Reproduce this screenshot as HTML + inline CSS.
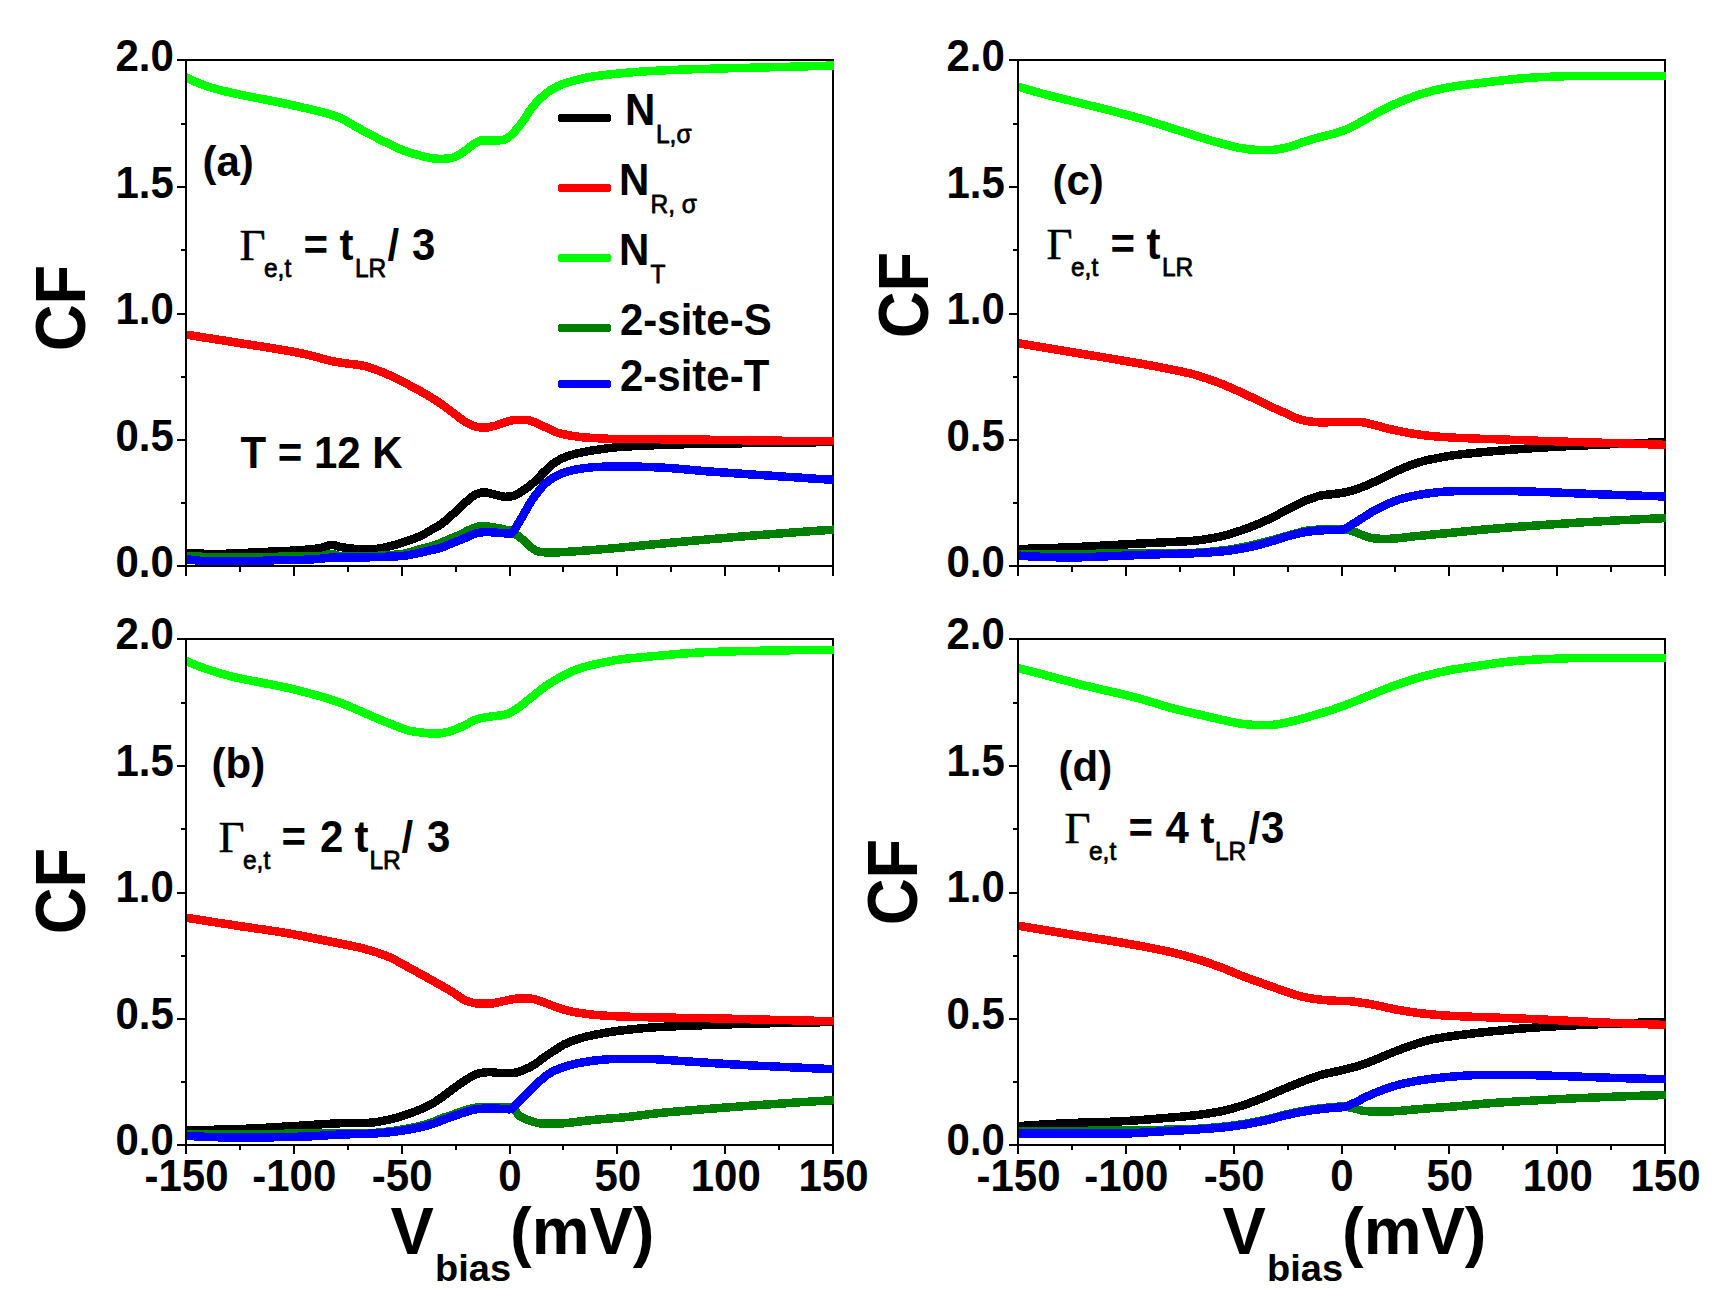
<!DOCTYPE html>
<html lang="en"><head><meta charset="utf-8"><title>CF vs Vbias</title>
<style>
html,body{margin:0;padding:0;background:#fff;}
body{width:1732px;height:1303px;overflow:hidden;}
svg{display:block;}
text{font-family:"Liberation Sans",sans-serif;font-weight:bold;fill:#000;}
.tk{font-size:42px;}
.an{font-size:42px;}
.sb{font-size:24.5px;font-weight:normal;stroke:#000;stroke-width:0.75px;stroke-linejoin:round;}
.gm{font-family:"Liberation Serif",serif;font-weight:normal;font-size:45px;stroke:#000;stroke-width:0.5px;}
.ax{font-size:65px;}
.axs{font-size:38px;}
.fr{stroke:#000;stroke-width:2;fill:none;shape-rendering:crispEdges;}
.cv{fill:none;stroke-width:8.5;stroke-linejoin:round;stroke-linecap:butt;shape-rendering:crispEdges;}
</style></head><body>
<svg width="1732" height="1303" viewBox="0 0 1732 1303">
<rect width="1732" height="1303" fill="#fff"/>
<path class="fr" d="M177 60H834M177 566H834M186 59V576M833 59V576M181 123.8H186M177 187.0H186M181 250.2H186M177 313.5H186M181 376.8H186M177 440.0H186M181 503.2H186M239.9 566V572M293.8 566V576M347.8 566V572M401.7 566V576M455.6 566V572M509.5 566V576M563.4 566V572M617.3 566V576M671.2 566V572M725.2 566V576M779.1 566V572"/>
<clipPath id="cpa"><rect x="187" y="61" width="647" height="504"/></clipPath>
<g clip-path="url(#cpa)">
<path class="cv" stroke="#000" d="M185.0 552.9 L187.0 553.0 L189.0 553.1 L191.0 553.3 L193.0 553.4 L195.0 553.4 L197.0 553.5 L199.0 553.6 L201.0 553.7 L203.0 553.7 L205.0 553.8 L207.0 553.8 L209.0 553.8 L211.0 553.9 L213.0 553.9 L215.0 553.9 L217.0 553.9 L219.0 553.9 L221.0 553.9 L223.0 553.8 L225.0 553.8 L227.0 553.7 L229.0 553.6 L231.0 553.5 L233.0 553.5 L235.0 553.4 L237.0 553.3 L239.0 553.2 L241.0 553.1 L243.0 553.0 L245.0 552.9 L247.0 552.8 L249.0 552.7 L251.0 552.6 L253.0 552.5 L255.0 552.4 L257.0 552.4 L259.0 552.3 L261.0 552.2 L263.0 552.1 L265.0 552.0 L267.0 551.8 L269.0 551.7 L271.0 551.6 L273.0 551.6 L275.0 551.5 L277.0 551.4 L279.0 551.3 L281.0 551.2 L283.0 551.1 L285.0 551.0 L287.0 550.9 L289.0 550.8 L291.0 550.7 L293.0 550.6 L295.0 550.5 L297.0 550.4 L299.0 550.3 L301.0 550.1 L303.0 550.0 L305.0 549.8 L307.0 549.6 L309.0 549.5 L311.0 549.2 L313.0 549.0 L315.0 548.8 L317.0 548.5 L319.0 548.2 L321.0 547.8 L323.0 547.2 L325.0 546.5 L327.0 545.9 L329.0 545.3 L331.0 545.0 L333.0 544.9 L335.0 545.3 L337.0 546.0 L339.0 546.7 L341.0 547.1 L343.0 547.4 L345.0 547.7 L347.0 548.0 L349.0 548.2 L351.0 548.5 L353.0 548.7 L355.0 548.9 L357.0 549.1 L359.0 549.3 L361.0 549.4 L363.0 549.5 L365.0 549.5 L367.0 549.5 L369.0 549.4 L371.0 549.3 L373.0 549.2 L375.0 549.0 L377.0 548.8 L379.0 548.5 L381.0 548.1 L383.0 547.8 L385.0 547.4 L387.0 546.9 L389.0 546.5 L391.0 546.0 L393.0 545.4 L395.0 544.9 L397.0 544.3 L399.0 543.7 L401.0 543.1 L403.0 542.4 L405.0 541.7 L407.0 541.0 L409.0 540.3 L411.0 539.6 L413.0 538.9 L415.0 538.2 L417.0 537.4 L419.0 536.7 L421.0 535.9 L423.0 534.9 L425.0 533.7 L427.0 532.4 L429.0 531.2 L431.0 530.0 L433.0 529.0 L435.0 527.9 L437.0 526.8 L439.0 525.6 L441.0 524.2 L443.0 522.7 L445.0 521.1 L447.0 519.4 L449.0 517.6 L451.0 515.8 L453.0 514.0 L455.0 512.2 L457.0 510.3 L459.0 508.3 L461.0 506.4 L463.0 504.5 L465.0 502.7 L467.0 501.1 L469.0 499.3 L471.0 497.6 L473.0 496.1 L475.0 494.9 L477.0 494.0 L479.0 493.3 L481.0 492.7 L483.0 492.4 L485.0 492.3 L487.0 492.6 L489.0 493.0 L491.0 493.6 L493.0 494.2 L495.0 494.6 L497.0 495.1 L499.0 495.7 L501.0 496.2 L503.0 496.6 L505.0 496.8 L507.0 496.7 L509.0 496.5 L511.0 496.3 L513.0 495.9 L515.0 495.3 L517.0 494.4 L519.0 493.2 L521.0 491.9 L523.0 490.6 L525.0 489.3 L527.0 487.9 L529.0 486.3 L531.0 484.7 L533.0 483.0 L535.0 481.2 L537.0 479.2 L539.0 477.1 L541.0 475.0 L543.0 473.0 L545.0 471.0 L547.0 469.2 L549.0 467.3 L551.0 465.5 L553.0 463.9 L555.0 462.5 L557.0 461.2 L559.0 460.0 L561.0 459.0 L563.0 458.0 L565.0 457.2 L567.0 456.4 L569.0 455.7 L571.0 455.1 L573.0 454.5 L575.0 454.0 L577.0 453.5 L579.0 453.0 L581.0 452.6 L583.0 452.2 L585.0 451.8 L587.0 451.4 L589.0 451.1 L591.0 450.7 L593.0 450.4 L595.0 450.1 L597.0 449.8 L599.0 449.5 L601.0 449.2 L603.0 448.9 L605.0 448.6 L607.0 448.4 L609.0 448.1 L611.0 447.9 L613.0 447.6 L615.0 447.4 L617.0 447.2 L619.0 447.1 L621.0 446.9 L623.0 446.8 L625.0 446.7 L627.0 446.6 L629.0 446.4 L631.0 446.3 L633.0 446.2 L635.0 446.1 L637.0 446.0 L639.0 445.9 L641.0 445.8 L643.0 445.7 L645.0 445.6 L647.0 445.5 L649.0 445.4 L651.0 445.3 L653.0 445.3 L655.0 445.2 L657.0 445.1 L659.0 445.0 L661.0 445.0 L663.0 444.9 L665.0 444.8 L667.0 444.8 L669.0 444.7 L671.0 444.6 L673.0 444.6 L675.0 444.5 L677.0 444.5 L679.0 444.4 L681.0 444.3 L683.0 444.3 L685.0 444.2 L687.0 444.2 L689.0 444.2 L691.0 444.1 L693.0 444.1 L695.0 444.0 L697.0 444.0 L699.0 443.9 L701.0 443.9 L703.0 443.9 L705.0 443.8 L707.0 443.8 L709.0 443.8 L711.0 443.7 L713.0 443.7 L715.0 443.7 L717.0 443.6 L719.0 443.6 L721.0 443.6 L723.0 443.5 L725.0 443.5 L727.0 443.5 L729.0 443.4 L731.0 443.4 L733.0 443.4 L735.0 443.4 L737.0 443.3 L739.0 443.3 L741.0 443.3 L743.0 443.2 L745.0 443.2 L747.0 443.2 L749.0 443.2 L751.0 443.1 L753.0 443.1 L755.0 443.1 L757.0 443.0 L759.0 443.0 L761.0 443.0 L763.0 443.0 L765.0 442.9 L767.0 442.9 L769.0 442.9 L771.0 442.8 L773.0 442.8 L775.0 442.8 L777.0 442.8 L779.0 442.7 L781.0 442.7 L783.0 442.7 L785.0 442.6 L787.0 442.6 L789.0 442.6 L791.0 442.6 L793.0 442.5 L795.0 442.5 L797.0 442.5 L799.0 442.5 L801.0 442.4 L803.0 442.4 L805.0 442.4 L807.0 442.4 L809.0 442.3 L811.0 442.3 L813.0 442.3 L815.0 442.3 L817.0 442.2 L819.0 442.2 L821.0 442.2 L823.0 442.2 L825.0 442.1 L827.0 442.1 L829.0 442.1 L831.0 442.1 L833.0 442.0 L835.0 442.0"/>
<path class="cv" stroke="#f00" d="M185.0 334.5 L187.0 334.8 L189.0 335.1 L191.0 335.4 L193.0 335.7 L195.0 336.0 L197.0 336.3 L199.0 336.7 L201.0 337.0 L203.0 337.3 L205.0 337.6 L207.0 337.9 L209.0 338.2 L211.0 338.5 L213.0 338.8 L215.0 339.2 L217.0 339.5 L219.0 339.8 L221.0 340.1 L223.0 340.4 L225.0 340.7 L227.0 341.1 L229.0 341.4 L231.0 341.7 L233.0 342.0 L235.0 342.3 L237.0 342.7 L239.0 343.0 L241.0 343.3 L243.0 343.6 L245.0 343.9 L247.0 344.2 L249.0 344.5 L251.0 344.8 L253.0 345.2 L255.0 345.5 L257.0 345.8 L259.0 346.1 L261.0 346.4 L263.0 346.7 L265.0 347.0 L267.0 347.3 L269.0 347.6 L271.0 347.9 L273.0 348.3 L275.0 348.6 L277.0 348.9 L279.0 349.3 L281.0 349.6 L283.0 349.9 L285.0 350.3 L287.0 350.6 L289.0 351.0 L291.0 351.4 L293.0 351.7 L295.0 352.1 L297.0 352.5 L299.0 352.9 L301.0 353.3 L303.0 353.7 L305.0 354.2 L307.0 354.7 L309.0 355.1 L311.0 355.6 L313.0 356.1 L315.0 356.6 L317.0 357.2 L319.0 357.7 L321.0 358.3 L323.0 358.9 L325.0 359.5 L327.0 360.0 L329.0 360.5 L331.0 361.0 L333.0 361.3 L335.0 361.7 L337.0 362.0 L339.0 362.4 L341.0 362.7 L343.0 363.0 L345.0 363.2 L347.0 363.5 L349.0 363.8 L351.0 364.0 L353.0 364.2 L355.0 364.5 L357.0 364.7 L359.0 365.0 L361.0 365.3 L363.0 365.6 L365.0 366.1 L367.0 366.6 L369.0 367.2 L371.0 367.9 L373.0 368.6 L375.0 369.4 L377.0 370.1 L379.0 370.9 L381.0 371.6 L383.0 372.4 L385.0 373.2 L387.0 374.1 L389.0 375.0 L391.0 375.9 L393.0 376.8 L395.0 377.7 L397.0 378.7 L399.0 379.7 L401.0 380.8 L403.0 381.8 L405.0 382.9 L407.0 384.0 L409.0 385.0 L411.0 386.1 L413.0 387.2 L415.0 388.2 L417.0 389.3 L419.0 390.4 L421.0 391.5 L423.0 392.6 L425.0 393.8 L427.0 394.9 L429.0 396.1 L431.0 397.3 L433.0 398.6 L435.0 399.8 L437.0 401.1 L439.0 402.4 L441.0 403.8 L443.0 405.2 L445.0 406.7 L447.0 408.2 L449.0 409.7 L451.0 411.2 L453.0 412.7 L455.0 414.2 L457.0 415.8 L459.0 417.3 L461.0 418.9 L463.0 420.3 L465.0 421.6 L467.0 422.7 L469.0 423.8 L471.0 424.8 L473.0 425.7 L475.0 426.4 L477.0 426.9 L479.0 427.2 L481.0 427.5 L483.0 427.7 L485.0 427.7 L487.0 427.5 L489.0 427.2 L491.0 426.7 L493.0 426.2 L495.0 425.8 L497.0 425.2 L499.0 424.4 L501.0 423.7 L503.0 422.9 L505.0 422.3 L507.0 421.7 L509.0 421.1 L511.0 420.5 L513.0 420.1 L515.0 419.8 L517.0 419.8 L519.0 419.8 L521.0 419.8 L523.0 419.8 L525.0 419.8 L527.0 420.0 L529.0 420.4 L531.0 421.0 L533.0 421.6 L535.0 422.3 L537.0 423.1 L539.0 424.1 L541.0 425.1 L543.0 426.1 L545.0 427.0 L547.0 428.0 L549.0 429.0 L551.0 430.0 L553.0 430.9 L555.0 431.8 L557.0 432.5 L559.0 433.1 L561.0 433.6 L563.0 434.1 L565.0 434.5 L567.0 434.9 L569.0 435.3 L571.0 435.6 L573.0 435.9 L575.0 436.2 L577.0 436.5 L579.0 436.8 L581.0 437.0 L583.0 437.3 L585.0 437.4 L587.0 437.6 L589.0 437.7 L591.0 437.9 L593.0 438.0 L595.0 438.1 L597.0 438.2 L599.0 438.3 L601.0 438.4 L603.0 438.5 L605.0 438.6 L607.0 438.7 L609.0 438.8 L611.0 438.9 L613.0 439.0 L615.0 439.0 L617.0 439.1 L619.0 439.1 L621.0 439.1 L623.0 439.1 L625.0 439.1 L627.0 439.1 L629.0 439.2 L631.0 439.2 L633.0 439.2 L635.0 439.2 L637.0 439.2 L639.0 439.2 L641.0 439.2 L643.0 439.2 L645.0 439.2 L647.0 439.2 L649.0 439.2 L651.0 439.2 L653.0 439.2 L655.0 439.2 L657.0 439.2 L659.0 439.2 L661.0 439.3 L663.0 439.3 L665.0 439.3 L667.0 439.3 L669.0 439.3 L671.0 439.3 L673.0 439.3 L675.0 439.4 L677.0 439.4 L679.0 439.4 L681.0 439.4 L683.0 439.4 L685.0 439.5 L687.0 439.5 L689.0 439.5 L691.0 439.5 L693.0 439.5 L695.0 439.6 L697.0 439.6 L699.0 439.6 L701.0 439.6 L703.0 439.7 L705.0 439.7 L707.0 439.7 L709.0 439.7 L711.0 439.8 L713.0 439.8 L715.0 439.8 L717.0 439.8 L719.0 439.9 L721.0 439.9 L723.0 439.9 L725.0 440.0 L727.0 440.0 L729.0 440.0 L731.0 440.1 L733.0 440.1 L735.0 440.1 L737.0 440.2 L739.0 440.2 L741.0 440.2 L743.0 440.3 L745.0 440.3 L747.0 440.3 L749.0 440.3 L751.0 440.4 L753.0 440.4 L755.0 440.4 L757.0 440.5 L759.0 440.5 L761.0 440.5 L763.0 440.5 L765.0 440.6 L767.0 440.6 L769.0 440.6 L771.0 440.6 L773.0 440.7 L775.0 440.7 L777.0 440.7 L779.0 440.7 L781.0 440.7 L783.0 440.8 L785.0 440.8 L787.0 440.8 L789.0 440.8 L791.0 440.9 L793.0 440.9 L795.0 440.9 L797.0 440.9 L799.0 440.9 L801.0 441.0 L803.0 441.0 L805.0 441.0 L807.0 441.0 L809.0 441.0 L811.0 441.1 L813.0 441.1 L815.0 441.1 L817.0 441.1 L819.0 441.1 L821.0 441.1 L823.0 441.2 L825.0 441.2 L827.0 441.2 L829.0 441.2 L831.0 441.2 L833.0 441.2 L835.0 441.2"/>
<path class="cv" stroke="#0f0" d="M185.0 77.0 L187.0 78.0 L189.0 78.9 L191.0 79.8 L193.0 80.7 L195.0 81.6 L197.0 82.4 L199.0 83.2 L201.0 84.0 L203.0 84.8 L205.0 85.5 L207.0 86.2 L209.0 86.9 L211.0 87.5 L213.0 88.1 L215.0 88.7 L217.0 89.2 L219.0 89.8 L221.0 90.3 L223.0 90.8 L225.0 91.3 L227.0 91.7 L229.0 92.2 L231.0 92.6 L233.0 93.1 L235.0 93.5 L237.0 94.0 L239.0 94.4 L241.0 94.8 L243.0 95.2 L245.0 95.6 L247.0 96.0 L249.0 96.4 L251.0 96.8 L253.0 97.2 L255.0 97.6 L257.0 98.0 L259.0 98.4 L261.0 98.8 L263.0 99.1 L265.0 99.5 L267.0 99.9 L269.0 100.3 L271.0 100.7 L273.0 101.1 L275.0 101.5 L277.0 101.9 L279.0 102.3 L281.0 102.7 L283.0 103.1 L285.0 103.5 L287.0 104.0 L289.0 104.4 L291.0 104.8 L293.0 105.3 L295.0 105.7 L297.0 106.2 L299.0 106.6 L301.0 107.1 L303.0 107.6 L305.0 108.0 L307.0 108.5 L309.0 109.0 L311.0 109.5 L313.0 110.0 L315.0 110.5 L317.0 110.9 L319.0 111.4 L321.0 111.9 L323.0 112.4 L325.0 112.9 L327.0 113.5 L329.0 114.0 L331.0 114.6 L333.0 115.2 L335.0 115.9 L337.0 116.6 L339.0 117.4 L341.0 118.4 L343.0 119.3 L345.0 120.4 L347.0 121.5 L349.0 122.6 L351.0 123.8 L353.0 125.0 L355.0 126.1 L357.0 127.3 L359.0 128.4 L361.0 129.5 L363.0 130.6 L365.0 131.6 L367.0 132.7 L369.0 133.8 L371.0 134.9 L373.0 135.9 L375.0 137.0 L377.0 138.0 L379.0 139.1 L381.0 140.1 L383.0 141.1 L385.0 142.0 L387.0 143.0 L389.0 143.9 L391.0 144.9 L393.0 145.8 L395.0 146.7 L397.0 147.7 L399.0 148.6 L401.0 149.4 L403.0 150.3 L405.0 151.0 L407.0 151.8 L409.0 152.4 L411.0 153.0 L413.0 153.6 L415.0 154.1 L417.0 154.7 L419.0 155.2 L421.0 155.8 L423.0 156.3 L425.0 156.8 L427.0 157.2 L429.0 157.6 L431.0 158.0 L433.0 158.3 L435.0 158.5 L437.0 158.7 L439.0 158.8 L441.0 158.8 L443.0 158.8 L445.0 158.7 L447.0 158.6 L449.0 158.4 L451.0 158.1 L453.0 157.5 L455.0 156.7 L457.0 155.7 L459.0 154.8 L461.0 153.6 L463.0 152.2 L465.0 150.7 L467.0 149.2 L469.0 147.7 L471.0 146.1 L473.0 144.6 L475.0 143.1 L477.0 142.0 L479.0 141.1 L481.0 140.4 L483.0 140.4 L485.0 140.4 L487.0 140.5 L489.0 140.5 L491.0 140.6 L493.0 140.6 L495.0 140.6 L497.0 140.6 L499.0 140.4 L501.0 140.1 L503.0 139.8 L505.0 139.3 L507.0 138.4 L509.0 136.9 L511.0 135.1 L513.0 133.1 L515.0 131.1 L517.0 128.9 L519.0 126.4 L521.0 123.8 L523.0 121.1 L525.0 118.3 L527.0 115.1 L529.0 111.9 L531.0 109.0 L533.0 106.4 L535.0 104.0 L537.0 101.9 L539.0 99.8 L541.0 97.9 L543.0 96.1 L545.0 94.4 L547.0 92.8 L549.0 91.3 L551.0 89.9 L553.0 88.7 L555.0 87.6 L557.0 86.5 L559.0 85.6 L561.0 84.7 L563.0 84.0 L565.0 83.3 L567.0 82.7 L569.0 82.1 L571.0 81.5 L573.0 80.9 L575.0 80.3 L577.0 79.8 L579.0 79.3 L581.0 78.8 L583.0 78.4 L585.0 77.9 L587.0 77.5 L589.0 77.2 L591.0 76.8 L593.0 76.5 L595.0 76.2 L597.0 75.9 L599.0 75.6 L601.0 75.4 L603.0 75.2 L605.0 74.9 L607.0 74.7 L609.0 74.5 L611.0 74.3 L613.0 74.1 L615.0 73.9 L617.0 73.7 L619.0 73.5 L621.0 73.3 L623.0 73.1 L625.0 72.9 L627.0 72.7 L629.0 72.6 L631.0 72.4 L633.0 72.2 L635.0 72.1 L637.0 71.9 L639.0 71.8 L641.0 71.6 L643.0 71.5 L645.0 71.4 L647.0 71.2 L649.0 71.1 L651.0 71.0 L653.0 70.9 L655.0 70.8 L657.0 70.7 L659.0 70.5 L661.0 70.5 L663.0 70.4 L665.0 70.3 L667.0 70.2 L669.0 70.1 L671.0 70.0 L673.0 69.9 L675.0 69.9 L677.0 69.8 L679.0 69.7 L681.0 69.6 L683.0 69.6 L685.0 69.5 L687.0 69.4 L689.0 69.4 L691.0 69.3 L693.0 69.2 L695.0 69.2 L697.0 69.1 L699.0 69.1 L701.0 69.0 L703.0 69.0 L705.0 68.9 L707.0 68.8 L709.0 68.8 L711.0 68.7 L713.0 68.7 L715.0 68.6 L717.0 68.6 L719.0 68.5 L721.0 68.4 L723.0 68.4 L725.0 68.3 L727.0 68.3 L729.0 68.2 L731.0 68.2 L733.0 68.2 L735.0 68.1 L737.0 68.1 L739.0 68.0 L741.0 68.0 L743.0 67.9 L745.0 67.9 L747.0 67.8 L749.0 67.8 L751.0 67.7 L753.0 67.7 L755.0 67.6 L757.0 67.6 L759.0 67.5 L761.0 67.5 L763.0 67.4 L765.0 67.4 L767.0 67.3 L769.0 67.3 L771.0 67.2 L773.0 67.2 L775.0 67.1 L777.0 67.1 L779.0 67.0 L781.0 67.0 L783.0 66.9 L785.0 66.9 L787.0 66.8 L789.0 66.8 L791.0 66.7 L793.0 66.6 L795.0 66.6 L797.0 66.5 L799.0 66.5 L801.0 66.4 L803.0 66.4 L805.0 66.3 L807.0 66.3 L809.0 66.2 L811.0 66.2 L813.0 66.1 L815.0 66.1 L817.0 66.0 L819.0 66.0 L821.0 65.9 L823.0 65.9 L825.0 65.8 L827.0 65.7 L829.0 65.7 L831.0 65.6 L833.0 65.6 L835.0 65.5"/>
<path class="cv" stroke="#008000" d="M185.0 556.2 L187.0 556.3 L189.0 556.3 L191.0 556.4 L193.0 556.5 L195.0 556.5 L197.0 556.6 L199.0 556.6 L201.0 556.7 L203.0 556.8 L205.0 556.8 L207.0 556.9 L209.0 556.9 L211.0 557.0 L213.0 557.0 L215.0 557.1 L217.0 557.1 L219.0 557.1 L221.0 557.2 L223.0 557.2 L225.0 557.3 L227.0 557.3 L229.0 557.4 L231.0 557.4 L233.0 557.5 L235.0 557.5 L237.0 557.5 L239.0 557.6 L241.0 557.6 L243.0 557.6 L245.0 557.6 L247.0 557.6 L249.0 557.6 L251.0 557.5 L253.0 557.5 L255.0 557.4 L257.0 557.4 L259.0 557.3 L261.0 557.3 L263.0 557.2 L265.0 557.1 L267.0 557.0 L269.0 557.0 L271.0 556.9 L273.0 556.9 L275.0 556.8 L277.0 556.8 L279.0 556.7 L281.0 556.6 L283.0 556.6 L285.0 556.5 L287.0 556.4 L289.0 556.4 L291.0 556.3 L293.0 556.3 L295.0 556.2 L297.0 556.2 L299.0 556.2 L301.0 556.2 L303.0 556.2 L305.0 556.2 L307.0 556.2 L309.0 556.2 L311.0 556.2 L313.0 556.2 L315.0 556.2 L317.0 556.2 L319.0 556.2 L321.0 556.0 L323.0 555.6 L325.0 555.2 L327.0 554.7 L329.0 554.3 L331.0 554.0 L333.0 553.9 L335.0 554.5 L337.0 555.4 L339.0 556.1 L341.0 556.2 L343.0 556.2 L345.0 556.2 L347.0 556.2 L349.0 556.2 L351.0 556.2 L353.0 556.2 L355.0 556.1 L357.0 556.1 L359.0 556.1 L361.0 556.1 L363.0 556.1 L365.0 556.1 L367.0 556.0 L369.0 556.0 L371.0 556.0 L373.0 555.9 L375.0 555.9 L377.0 555.8 L379.0 555.7 L381.0 555.7 L383.0 555.6 L385.0 555.4 L387.0 555.3 L389.0 555.2 L391.0 555.0 L393.0 554.8 L395.0 554.7 L397.0 554.5 L399.0 554.3 L401.0 554.1 L403.0 553.8 L405.0 553.4 L407.0 552.9 L409.0 552.4 L411.0 551.8 L413.0 551.2 L415.0 550.6 L417.0 550.0 L419.0 549.5 L421.0 549.0 L423.0 548.5 L425.0 548.0 L427.0 547.5 L429.0 547.0 L431.0 546.4 L433.0 545.8 L435.0 545.1 L437.0 544.3 L439.0 543.6 L441.0 542.8 L443.0 541.9 L445.0 541.0 L447.0 540.1 L449.0 539.2 L451.0 538.4 L453.0 537.6 L455.0 536.7 L457.0 535.9 L459.0 535.1 L461.0 534.1 L463.0 533.1 L465.0 532.0 L467.0 531.0 L469.0 530.0 L471.0 529.1 L473.0 528.3 L475.0 527.5 L477.0 527.0 L479.0 526.5 L481.0 526.2 L483.0 526.0 L485.0 526.1 L487.0 526.4 L489.0 526.7 L491.0 527.0 L493.0 527.3 L495.0 527.6 L497.0 528.0 L499.0 528.3 L501.0 528.7 L503.0 529.1 L505.0 529.6 L507.0 529.9 L509.0 530.1 L511.0 530.4 L513.0 531.6 L515.0 533.3 L517.0 535.1 L519.0 536.7 L521.0 538.2 L523.0 539.7 L525.0 541.3 L527.0 543.2 L529.0 545.3 L531.0 547.2 L533.0 548.7 L535.0 550.0 L537.0 551.1 L539.0 551.6 L541.0 552.0 L543.0 552.2 L545.0 552.3 L547.0 552.3 L549.0 552.3 L551.0 552.3 L553.0 552.3 L555.0 552.3 L557.0 552.3 L559.0 552.3 L561.0 552.2 L563.0 552.1 L565.0 552.0 L567.0 551.8 L569.0 551.7 L571.0 551.6 L573.0 551.4 L575.0 551.3 L577.0 551.2 L579.0 551.0 L581.0 550.9 L583.0 550.7 L585.0 550.6 L587.0 550.4 L589.0 550.3 L591.0 550.1 L593.0 550.0 L595.0 549.8 L597.0 549.7 L599.0 549.5 L601.0 549.3 L603.0 549.2 L605.0 549.0 L607.0 548.8 L609.0 548.7 L611.0 548.5 L613.0 548.3 L615.0 548.1 L617.0 548.0 L619.0 547.8 L621.0 547.6 L623.0 547.4 L625.0 547.2 L627.0 547.0 L629.0 546.8 L631.0 546.6 L633.0 546.5 L635.0 546.2 L637.0 546.0 L639.0 545.8 L641.0 545.6 L643.0 545.4 L645.0 545.2 L647.0 545.0 L649.0 544.8 L651.0 544.6 L653.0 544.4 L655.0 544.2 L657.0 544.0 L659.0 543.8 L661.0 543.7 L663.0 543.5 L665.0 543.3 L667.0 543.1 L669.0 542.9 L671.0 542.7 L673.0 542.5 L675.0 542.4 L677.0 542.2 L679.0 542.0 L681.0 541.8 L683.0 541.6 L685.0 541.5 L687.0 541.3 L689.0 541.1 L691.0 540.9 L693.0 540.7 L695.0 540.6 L697.0 540.4 L699.0 540.2 L701.0 540.0 L703.0 539.9 L705.0 539.7 L707.0 539.5 L709.0 539.3 L711.0 539.2 L713.0 539.0 L715.0 538.8 L717.0 538.6 L719.0 538.5 L721.0 538.3 L723.0 538.1 L725.0 537.9 L727.0 537.8 L729.0 537.6 L731.0 537.4 L733.0 537.2 L735.0 537.1 L737.0 536.9 L739.0 536.7 L741.0 536.6 L743.0 536.4 L745.0 536.2 L747.0 536.1 L749.0 535.9 L751.0 535.7 L753.0 535.6 L755.0 535.4 L757.0 535.2 L759.0 535.1 L761.0 534.9 L763.0 534.8 L765.0 534.6 L767.0 534.5 L769.0 534.3 L771.0 534.1 L773.0 534.0 L775.0 533.8 L777.0 533.7 L779.0 533.5 L781.0 533.4 L783.0 533.2 L785.0 533.1 L787.0 532.9 L789.0 532.8 L791.0 532.6 L793.0 532.5 L795.0 532.3 L797.0 532.2 L799.0 532.0 L801.0 531.9 L803.0 531.8 L805.0 531.6 L807.0 531.5 L809.0 531.3 L811.0 531.2 L813.0 531.0 L815.0 530.9 L817.0 530.8 L819.0 530.6 L821.0 530.5 L823.0 530.4 L825.0 530.2 L827.0 530.1 L829.0 530.0 L831.0 529.8 L833.0 529.7 L835.0 529.6"/>
<path class="cv" stroke="#00f" d="M185.0 559.0 L187.0 559.3 L189.0 559.5 L191.0 559.8 L193.0 560.0 L195.0 560.2 L197.0 560.5 L199.0 560.7 L201.0 560.9 L203.0 561.0 L205.0 561.2 L207.0 561.4 L209.0 561.5 L211.0 561.6 L213.0 561.6 L215.0 561.7 L217.0 561.7 L219.0 561.7 L221.0 561.7 L223.0 561.7 L225.0 561.7 L227.0 561.7 L229.0 561.7 L231.0 561.7 L233.0 561.7 L235.0 561.7 L237.0 561.7 L239.0 561.7 L241.0 561.7 L243.0 561.7 L245.0 561.7 L247.0 561.7 L249.0 561.6 L251.0 561.5 L253.0 561.4 L255.0 561.3 L257.0 561.2 L259.0 561.0 L261.0 560.9 L263.0 560.8 L265.0 560.6 L267.0 560.5 L269.0 560.4 L271.0 560.3 L273.0 560.3 L275.0 560.2 L277.0 560.2 L279.0 560.2 L281.0 560.2 L283.0 560.1 L285.0 560.1 L287.0 560.1 L289.0 560.1 L291.0 560.1 L293.0 560.0 L295.0 560.0 L297.0 560.0 L299.0 559.9 L301.0 559.9 L303.0 559.8 L305.0 559.7 L307.0 559.6 L309.0 559.5 L311.0 559.4 L313.0 559.3 L315.0 559.1 L317.0 559.0 L319.0 558.9 L321.0 558.7 L323.0 558.4 L325.0 558.2 L327.0 558.0 L329.0 557.8 L331.0 557.6 L333.0 557.6 L335.0 557.6 L337.0 557.6 L339.0 557.6 L341.0 557.6 L343.0 557.6 L345.0 557.6 L347.0 557.6 L349.0 557.6 L351.0 557.6 L353.0 557.5 L355.0 557.5 L357.0 557.5 L359.0 557.5 L361.0 557.4 L363.0 557.4 L365.0 557.4 L367.0 557.3 L369.0 557.3 L371.0 557.2 L373.0 557.2 L375.0 557.1 L377.0 557.1 L379.0 557.0 L381.0 557.0 L383.0 556.9 L385.0 556.8 L387.0 556.7 L389.0 556.7 L391.0 556.6 L393.0 556.5 L395.0 556.4 L397.0 556.3 L399.0 556.2 L401.0 556.1 L403.0 556.0 L405.0 555.7 L407.0 555.4 L409.0 555.0 L411.0 554.6 L413.0 554.2 L415.0 553.8 L417.0 553.3 L419.0 552.9 L421.0 552.5 L423.0 552.1 L425.0 551.6 L427.0 551.1 L429.0 550.6 L431.0 550.2 L433.0 549.7 L435.0 549.3 L437.0 548.8 L439.0 548.3 L441.0 547.7 L443.0 547.0 L445.0 546.2 L447.0 545.3 L449.0 544.5 L451.0 543.7 L453.0 542.9 L455.0 542.1 L457.0 541.3 L459.0 540.5 L461.0 539.7 L463.0 538.8 L465.0 538.0 L467.0 537.1 L469.0 536.3 L471.0 535.4 L473.0 534.5 L475.0 533.7 L477.0 533.2 L479.0 532.8 L481.0 532.5 L483.0 532.2 L485.0 532.0 L487.0 532.0 L489.0 532.1 L491.0 532.2 L493.0 532.4 L495.0 532.5 L497.0 532.7 L499.0 532.8 L501.0 533.0 L503.0 533.2 L505.0 533.3 L507.0 533.5 L509.0 533.6 L511.0 533.6 L513.0 531.9 L515.0 528.9 L517.0 525.4 L519.0 522.2 L521.0 518.9 L523.0 515.4 L525.0 511.9 L527.0 508.3 L529.0 504.8 L531.0 501.6 L533.0 498.6 L535.0 495.9 L537.0 493.3 L539.0 490.8 L541.0 488.2 L543.0 485.8 L545.0 483.8 L547.0 482.1 L549.0 480.6 L551.0 479.2 L553.0 477.9 L555.0 476.7 L557.0 475.6 L559.0 474.7 L561.0 473.8 L563.0 473.0 L565.0 472.3 L567.0 471.6 L569.0 471.1 L571.0 470.6 L573.0 470.1 L575.0 469.7 L577.0 469.3 L579.0 469.0 L581.0 468.6 L583.0 468.4 L585.0 468.1 L587.0 467.9 L589.0 467.6 L591.0 467.4 L593.0 467.2 L595.0 467.1 L597.0 467.0 L599.0 466.9 L601.0 466.8 L603.0 466.7 L605.0 466.6 L607.0 466.6 L609.0 466.5 L611.0 466.4 L613.0 466.4 L615.0 466.3 L617.0 466.3 L619.0 466.3 L621.0 466.3 L623.0 466.3 L625.0 466.3 L627.0 466.4 L629.0 466.4 L631.0 466.4 L633.0 466.5 L635.0 466.5 L637.0 466.6 L639.0 466.7 L641.0 466.7 L643.0 466.8 L645.0 466.9 L647.0 466.9 L649.0 467.0 L651.0 467.1 L653.0 467.2 L655.0 467.3 L657.0 467.4 L659.0 467.5 L661.0 467.5 L663.0 467.6 L665.0 467.8 L667.0 467.9 L669.0 468.0 L671.0 468.1 L673.0 468.3 L675.0 468.4 L677.0 468.6 L679.0 468.8 L681.0 468.9 L683.0 469.1 L685.0 469.3 L687.0 469.5 L689.0 469.7 L691.0 469.9 L693.0 470.0 L695.0 470.2 L697.0 470.4 L699.0 470.6 L701.0 470.8 L703.0 470.9 L705.0 471.1 L707.0 471.3 L709.0 471.4 L711.0 471.6 L713.0 471.7 L715.0 471.9 L717.0 472.0 L719.0 472.2 L721.0 472.3 L723.0 472.4 L725.0 472.6 L727.0 472.7 L729.0 472.9 L731.0 473.0 L733.0 473.2 L735.0 473.3 L737.0 473.4 L739.0 473.6 L741.0 473.7 L743.0 473.8 L745.0 474.0 L747.0 474.1 L749.0 474.3 L751.0 474.4 L753.0 474.5 L755.0 474.7 L757.0 474.8 L759.0 474.9 L761.0 475.1 L763.0 475.2 L765.0 475.3 L767.0 475.5 L769.0 475.6 L771.0 475.7 L773.0 475.9 L775.0 476.0 L777.0 476.1 L779.0 476.3 L781.0 476.4 L783.0 476.5 L785.0 476.7 L787.0 476.8 L789.0 476.9 L791.0 477.1 L793.0 477.2 L795.0 477.3 L797.0 477.5 L799.0 477.6 L801.0 477.7 L803.0 477.9 L805.0 478.0 L807.0 478.1 L809.0 478.3 L811.0 478.4 L813.0 478.5 L815.0 478.7 L817.0 478.8 L819.0 478.9 L821.0 479.0 L823.0 479.2 L825.0 479.3 L827.0 479.4 L829.0 479.6 L831.0 479.7 L833.0 479.8 L835.0 479.9"/>
</g>
<text class="tk" transform="translate(173.9 71.0) scale(1 1.06)" text-anchor="end">2.0</text>
<text class="tk" transform="translate(173.9 197.5) scale(1 1.06)" text-anchor="end">1.5</text>
<text class="tk" transform="translate(173.9 324.0) scale(1 1.06)" text-anchor="end">1.0</text>
<text class="tk" transform="translate(173.9 450.5) scale(1 1.06)" text-anchor="end">0.5</text>
<text class="tk" transform="translate(173.9 577.0) scale(1 1.06)" text-anchor="end">0.0</text>
<text class="ax" transform="translate(85 308) rotate(-90) scale(1 1.085)" text-anchor="middle">CF</text>
<path class="fr" d="M177 639H834M177 1145H834M186 638V1154M833 638V1154M181 702.8H186M177 766.0H186M181 829.2H186M177 892.5H186M181 955.8H186M177 1019.0H186M181 1082.2H186M239.9 1145V1150M293.8 1145V1154M347.8 1145V1150M401.7 1145V1154M455.6 1145V1150M509.5 1145V1154M563.4 1145V1150M617.3 1145V1154M671.2 1145V1150M725.2 1145V1154M779.1 1145V1150"/>
<clipPath id="cpb"><rect x="187" y="640" width="647" height="504"/></clipPath>
<g clip-path="url(#cpb)">
<path class="cv" stroke="#000" d="M185.0 1130.2 L187.0 1130.2 L189.0 1130.2 L191.0 1130.2 L193.0 1130.1 L195.0 1130.1 L197.0 1130.1 L199.0 1130.0 L201.0 1130.0 L203.0 1130.0 L205.0 1129.9 L207.0 1129.9 L209.0 1129.9 L211.0 1129.8 L213.0 1129.8 L215.0 1129.7 L217.0 1129.7 L219.0 1129.6 L221.0 1129.6 L223.0 1129.5 L225.0 1129.4 L227.0 1129.4 L229.0 1129.3 L231.0 1129.3 L233.0 1129.2 L235.0 1129.2 L237.0 1129.1 L239.0 1129.0 L241.0 1129.0 L243.0 1128.9 L245.0 1128.8 L247.0 1128.7 L249.0 1128.7 L251.0 1128.6 L253.0 1128.5 L255.0 1128.4 L257.0 1128.3 L259.0 1128.2 L261.0 1128.1 L263.0 1128.0 L265.0 1127.8 L267.0 1127.7 L269.0 1127.6 L271.0 1127.5 L273.0 1127.4 L275.0 1127.2 L277.0 1127.1 L279.0 1127.0 L281.0 1126.9 L283.0 1126.7 L285.0 1126.6 L287.0 1126.5 L289.0 1126.4 L291.0 1126.2 L293.0 1126.1 L295.0 1126.0 L297.0 1125.9 L299.0 1125.8 L301.0 1125.6 L303.0 1125.5 L305.0 1125.4 L307.0 1125.3 L309.0 1125.1 L311.0 1125.0 L313.0 1124.9 L315.0 1124.7 L317.0 1124.6 L319.0 1124.4 L321.0 1124.3 L323.0 1124.2 L325.0 1124.0 L327.0 1123.9 L329.0 1123.8 L331.0 1123.7 L333.0 1123.6 L335.0 1123.5 L337.0 1123.4 L339.0 1123.3 L341.0 1123.2 L343.0 1123.1 L345.0 1123.1 L347.0 1123.1 L349.0 1123.0 L351.0 1123.0 L353.0 1123.0 L355.0 1123.0 L357.0 1123.0 L359.0 1122.9 L361.0 1122.9 L363.0 1122.9 L365.0 1122.9 L367.0 1122.8 L369.0 1122.8 L371.0 1122.6 L373.0 1122.4 L375.0 1122.2 L377.0 1121.9 L379.0 1121.6 L381.0 1121.2 L383.0 1120.8 L385.0 1120.4 L387.0 1120.0 L389.0 1119.6 L391.0 1119.2 L393.0 1118.7 L395.0 1118.2 L397.0 1117.6 L399.0 1117.0 L401.0 1116.4 L403.0 1115.7 L405.0 1115.1 L407.0 1114.4 L409.0 1113.6 L411.0 1112.9 L413.0 1112.2 L415.0 1111.5 L417.0 1110.7 L419.0 1109.9 L421.0 1109.1 L423.0 1108.3 L425.0 1107.4 L427.0 1106.5 L429.0 1105.5 L431.0 1104.5 L433.0 1103.3 L435.0 1102.0 L437.0 1100.6 L439.0 1099.2 L441.0 1097.8 L443.0 1096.4 L445.0 1094.9 L447.0 1093.4 L449.0 1091.9 L451.0 1090.4 L453.0 1088.9 L455.0 1087.5 L457.0 1086.0 L459.0 1084.5 L461.0 1083.1 L463.0 1081.7 L465.0 1080.5 L467.0 1079.3 L469.0 1078.0 L471.0 1076.8 L473.0 1075.7 L475.0 1074.7 L477.0 1073.9 L479.0 1073.3 L481.0 1073.0 L483.0 1072.6 L485.0 1072.4 L487.0 1072.2 L489.0 1072.1 L491.0 1072.1 L493.0 1072.3 L495.0 1072.6 L497.0 1072.8 L499.0 1073.0 L501.0 1073.0 L503.0 1073.0 L505.0 1073.0 L507.0 1073.0 L509.0 1073.0 L511.0 1072.9 L513.0 1072.9 L515.0 1072.7 L517.0 1072.3 L519.0 1071.6 L521.0 1070.9 L523.0 1070.2 L525.0 1069.4 L527.0 1068.5 L529.0 1067.6 L531.0 1066.5 L533.0 1065.3 L535.0 1064.1 L537.0 1062.7 L539.0 1061.2 L541.0 1059.7 L543.0 1058.1 L545.0 1056.7 L547.0 1055.3 L549.0 1054.0 L551.0 1052.7 L553.0 1051.4 L555.0 1050.1 L557.0 1048.8 L559.0 1047.5 L561.0 1046.2 L563.0 1045.0 L565.0 1044.0 L567.0 1043.1 L569.0 1042.2 L571.0 1041.4 L573.0 1040.7 L575.0 1040.0 L577.0 1039.3 L579.0 1038.7 L581.0 1038.1 L583.0 1037.5 L585.0 1037.0 L587.0 1036.5 L589.0 1036.0 L591.0 1035.6 L593.0 1035.1 L595.0 1034.7 L597.0 1034.3 L599.0 1033.9 L601.0 1033.6 L603.0 1033.2 L605.0 1032.9 L607.0 1032.5 L609.0 1032.2 L611.0 1031.9 L613.0 1031.5 L615.0 1031.3 L617.0 1031.0 L619.0 1030.7 L621.0 1030.5 L623.0 1030.3 L625.0 1030.0 L627.0 1029.8 L629.0 1029.6 L631.0 1029.4 L633.0 1029.2 L635.0 1029.0 L637.0 1028.8 L639.0 1028.6 L641.0 1028.4 L643.0 1028.2 L645.0 1028.1 L647.0 1027.9 L649.0 1027.7 L651.0 1027.6 L653.0 1027.4 L655.0 1027.3 L657.0 1027.2 L659.0 1027.1 L661.0 1026.9 L663.0 1026.8 L665.0 1026.7 L667.0 1026.6 L669.0 1026.5 L671.0 1026.4 L673.0 1026.4 L675.0 1026.3 L677.0 1026.2 L679.0 1026.1 L681.0 1026.0 L683.0 1025.9 L685.0 1025.9 L687.0 1025.8 L689.0 1025.7 L691.0 1025.6 L693.0 1025.6 L695.0 1025.5 L697.0 1025.4 L699.0 1025.4 L701.0 1025.3 L703.0 1025.2 L705.0 1025.2 L707.0 1025.1 L709.0 1025.0 L711.0 1025.0 L713.0 1024.9 L715.0 1024.8 L717.0 1024.8 L719.0 1024.7 L721.0 1024.6 L723.0 1024.6 L725.0 1024.5 L727.0 1024.4 L729.0 1024.4 L731.0 1024.3 L733.0 1024.2 L735.0 1024.2 L737.0 1024.1 L739.0 1024.1 L741.0 1024.0 L743.0 1024.0 L745.0 1023.9 L747.0 1023.8 L749.0 1023.8 L751.0 1023.7 L753.0 1023.7 L755.0 1023.6 L757.0 1023.6 L759.0 1023.5 L761.0 1023.5 L763.0 1023.4 L765.0 1023.4 L767.0 1023.3 L769.0 1023.3 L771.0 1023.2 L773.0 1023.2 L775.0 1023.1 L777.0 1023.1 L779.0 1023.1 L781.0 1023.0 L783.0 1023.0 L785.0 1022.9 L787.0 1022.9 L789.0 1022.8 L791.0 1022.8 L793.0 1022.8 L795.0 1022.7 L797.0 1022.7 L799.0 1022.6 L801.0 1022.6 L803.0 1022.6 L805.0 1022.5 L807.0 1022.5 L809.0 1022.4 L811.0 1022.4 L813.0 1022.4 L815.0 1022.3 L817.0 1022.3 L819.0 1022.3 L821.0 1022.2 L823.0 1022.2 L825.0 1022.2 L827.0 1022.1 L829.0 1022.1 L831.0 1022.1 L833.0 1022.0 L835.0 1022.0"/>
<path class="cv" stroke="#f00" d="M185.0 917.5 L187.0 917.8 L189.0 918.1 L191.0 918.5 L193.0 918.8 L195.0 919.1 L197.0 919.4 L199.0 919.7 L201.0 920.0 L203.0 920.4 L205.0 920.7 L207.0 921.0 L209.0 921.3 L211.0 921.6 L213.0 921.9 L215.0 922.2 L217.0 922.6 L219.0 922.9 L221.0 923.2 L223.0 923.5 L225.0 923.8 L227.0 924.1 L229.0 924.4 L231.0 924.7 L233.0 925.0 L235.0 925.3 L237.0 925.7 L239.0 926.0 L241.0 926.3 L243.0 926.6 L245.0 926.8 L247.0 927.1 L249.0 927.4 L251.0 927.7 L253.0 928.0 L255.0 928.3 L257.0 928.6 L259.0 928.9 L261.0 929.1 L263.0 929.4 L265.0 929.7 L267.0 930.0 L269.0 930.3 L271.0 930.6 L273.0 930.9 L275.0 931.2 L277.0 931.5 L279.0 931.9 L281.0 932.2 L283.0 932.5 L285.0 932.8 L287.0 933.2 L289.0 933.5 L291.0 933.9 L293.0 934.2 L295.0 934.6 L297.0 935.0 L299.0 935.3 L301.0 935.7 L303.0 936.1 L305.0 936.5 L307.0 936.9 L309.0 937.3 L311.0 937.7 L313.0 938.1 L315.0 938.5 L317.0 938.9 L319.0 939.3 L321.0 939.7 L323.0 940.1 L325.0 940.5 L327.0 940.9 L329.0 941.3 L331.0 941.7 L333.0 942.1 L335.0 942.5 L337.0 943.0 L339.0 943.4 L341.0 943.7 L343.0 944.1 L345.0 944.5 L347.0 944.9 L349.0 945.3 L351.0 945.7 L353.0 946.2 L355.0 946.6 L357.0 947.0 L359.0 947.5 L361.0 948.0 L363.0 948.5 L365.0 949.0 L367.0 949.6 L369.0 950.1 L371.0 950.7 L373.0 951.3 L375.0 951.9 L377.0 952.5 L379.0 953.2 L381.0 953.9 L383.0 954.6 L385.0 955.4 L387.0 956.1 L389.0 957.0 L391.0 957.9 L393.0 958.9 L395.0 959.9 L397.0 961.0 L399.0 962.1 L401.0 963.2 L403.0 964.3 L405.0 965.4 L407.0 966.5 L409.0 967.7 L411.0 968.8 L413.0 969.8 L415.0 970.9 L417.0 972.0 L419.0 973.1 L421.0 974.2 L423.0 975.3 L425.0 976.4 L427.0 977.5 L429.0 978.6 L431.0 979.7 L433.0 980.8 L435.0 982.0 L437.0 983.1 L439.0 984.2 L441.0 985.4 L443.0 986.5 L445.0 987.7 L447.0 988.8 L449.0 990.0 L451.0 991.2 L453.0 992.4 L455.0 993.7 L457.0 995.1 L459.0 996.5 L461.0 997.9 L463.0 999.2 L465.0 1000.2 L467.0 1000.9 L469.0 1001.6 L471.0 1002.2 L473.0 1002.8 L475.0 1003.2 L477.0 1003.5 L479.0 1003.6 L481.0 1003.6 L483.0 1003.6 L485.0 1003.6 L487.0 1003.6 L489.0 1003.6 L491.0 1003.5 L493.0 1003.3 L495.0 1003.0 L497.0 1002.5 L499.0 1002.1 L501.0 1001.7 L503.0 1001.2 L505.0 1000.8 L507.0 1000.3 L509.0 999.8 L511.0 999.5 L513.0 999.2 L515.0 998.8 L517.0 998.6 L519.0 998.4 L521.0 998.3 L523.0 998.3 L525.0 998.4 L527.0 998.5 L529.0 998.6 L531.0 998.7 L533.0 998.9 L535.0 999.3 L537.0 999.9 L539.0 1000.6 L541.0 1001.3 L543.0 1001.9 L545.0 1002.7 L547.0 1003.5 L549.0 1004.3 L551.0 1005.1 L553.0 1005.9 L555.0 1006.6 L557.0 1007.4 L559.0 1008.1 L561.0 1008.7 L563.0 1009.3 L565.0 1009.9 L567.0 1010.4 L569.0 1010.9 L571.0 1011.3 L573.0 1011.8 L575.0 1012.1 L577.0 1012.5 L579.0 1012.8 L581.0 1013.1 L583.0 1013.4 L585.0 1013.7 L587.0 1014.0 L589.0 1014.2 L591.0 1014.5 L593.0 1014.7 L595.0 1014.9 L597.0 1015.0 L599.0 1015.2 L601.0 1015.3 L603.0 1015.5 L605.0 1015.6 L607.0 1015.8 L609.0 1015.9 L611.0 1016.0 L613.0 1016.1 L615.0 1016.2 L617.0 1016.3 L619.0 1016.4 L621.0 1016.4 L623.0 1016.5 L625.0 1016.6 L627.0 1016.7 L629.0 1016.7 L631.0 1016.8 L633.0 1016.8 L635.0 1016.9 L637.0 1017.0 L639.0 1017.0 L641.0 1017.1 L643.0 1017.1 L645.0 1017.2 L647.0 1017.2 L649.0 1017.3 L651.0 1017.3 L653.0 1017.4 L655.0 1017.4 L657.0 1017.4 L659.0 1017.5 L661.0 1017.5 L663.0 1017.6 L665.0 1017.6 L667.0 1017.6 L669.0 1017.7 L671.0 1017.7 L673.0 1017.7 L675.0 1017.7 L677.0 1017.8 L679.0 1017.8 L681.0 1017.8 L683.0 1017.9 L685.0 1017.9 L687.0 1017.9 L689.0 1017.9 L691.0 1018.0 L693.0 1018.0 L695.0 1018.0 L697.0 1018.0 L699.0 1018.1 L701.0 1018.1 L703.0 1018.1 L705.0 1018.2 L707.0 1018.2 L709.0 1018.2 L711.0 1018.3 L713.0 1018.3 L715.0 1018.4 L717.0 1018.4 L719.0 1018.4 L721.0 1018.5 L723.0 1018.5 L725.0 1018.6 L727.0 1018.6 L729.0 1018.7 L731.0 1018.7 L733.0 1018.8 L735.0 1018.8 L737.0 1018.9 L739.0 1018.9 L741.0 1019.0 L743.0 1019.1 L745.0 1019.1 L747.0 1019.2 L749.0 1019.2 L751.0 1019.3 L753.0 1019.3 L755.0 1019.4 L757.0 1019.4 L759.0 1019.5 L761.0 1019.5 L763.0 1019.6 L765.0 1019.6 L767.0 1019.7 L769.0 1019.7 L771.0 1019.8 L773.0 1019.8 L775.0 1019.9 L777.0 1019.9 L779.0 1020.0 L781.0 1020.0 L783.0 1020.0 L785.0 1020.1 L787.0 1020.1 L789.0 1020.2 L791.0 1020.2 L793.0 1020.3 L795.0 1020.3 L797.0 1020.4 L799.0 1020.4 L801.0 1020.5 L803.0 1020.5 L805.0 1020.6 L807.0 1020.6 L809.0 1020.6 L811.0 1020.7 L813.0 1020.7 L815.0 1020.8 L817.0 1020.8 L819.0 1020.9 L821.0 1020.9 L823.0 1021.0 L825.0 1021.0 L827.0 1021.1 L829.0 1021.1 L831.0 1021.1 L833.0 1021.2 L835.0 1021.2"/>
<path class="cv" stroke="#0f0" d="M185.0 660.5 L187.0 661.4 L189.0 662.2 L191.0 663.1 L193.0 663.9 L195.0 664.7 L197.0 665.5 L199.0 666.3 L201.0 667.0 L203.0 667.7 L205.0 668.5 L207.0 669.2 L209.0 669.8 L211.0 670.5 L213.0 671.1 L215.0 671.8 L217.0 672.4 L219.0 673.0 L221.0 673.6 L223.0 674.1 L225.0 674.7 L227.0 675.2 L229.0 675.8 L231.0 676.3 L233.0 676.8 L235.0 677.3 L237.0 677.7 L239.0 678.2 L241.0 678.6 L243.0 679.0 L245.0 679.4 L247.0 679.8 L249.0 680.2 L251.0 680.6 L253.0 681.0 L255.0 681.3 L257.0 681.7 L259.0 682.1 L261.0 682.5 L263.0 682.9 L265.0 683.3 L267.0 683.7 L269.0 684.1 L271.0 684.4 L273.0 684.8 L275.0 685.2 L277.0 685.6 L279.0 686.0 L281.0 686.4 L283.0 686.8 L285.0 687.3 L287.0 687.7 L289.0 688.2 L291.0 688.6 L293.0 689.1 L295.0 689.6 L297.0 690.1 L299.0 690.6 L301.0 691.1 L303.0 691.6 L305.0 692.1 L307.0 692.7 L309.0 693.2 L311.0 693.8 L313.0 694.3 L315.0 694.8 L317.0 695.4 L319.0 696.0 L321.0 696.5 L323.0 697.1 L325.0 697.7 L327.0 698.3 L329.0 699.0 L331.0 699.6 L333.0 700.2 L335.0 700.9 L337.0 701.6 L339.0 702.3 L341.0 703.1 L343.0 703.8 L345.0 704.6 L347.0 705.4 L349.0 706.2 L351.0 707.1 L353.0 707.9 L355.0 708.8 L357.0 709.6 L359.0 710.5 L361.0 711.4 L363.0 712.3 L365.0 713.2 L367.0 714.0 L369.0 714.9 L371.0 715.8 L373.0 716.7 L375.0 717.5 L377.0 718.4 L379.0 719.2 L381.0 720.0 L383.0 720.8 L385.0 721.6 L387.0 722.5 L389.0 723.3 L391.0 724.1 L393.0 724.8 L395.0 725.6 L397.0 726.4 L399.0 727.2 L401.0 727.9 L403.0 728.7 L405.0 729.4 L407.0 730.1 L409.0 730.6 L411.0 731.0 L413.0 731.4 L415.0 731.7 L417.0 732.0 L419.0 732.2 L421.0 732.5 L423.0 732.7 L425.0 732.9 L427.0 733.1 L429.0 733.3 L431.0 733.5 L433.0 733.6 L435.0 733.7 L437.0 733.7 L439.0 733.5 L441.0 733.2 L443.0 732.9 L445.0 732.5 L447.0 732.0 L449.0 731.6 L451.0 731.0 L453.0 730.3 L455.0 729.5 L457.0 728.7 L459.0 727.9 L461.0 727.0 L463.0 726.1 L465.0 725.2 L467.0 724.1 L469.0 723.0 L471.0 721.9 L473.0 720.8 L475.0 719.9 L477.0 719.2 L479.0 718.6 L481.0 718.2 L483.0 717.8 L485.0 717.4 L487.0 717.1 L489.0 716.8 L491.0 716.5 L493.0 716.2 L495.0 716.0 L497.0 715.8 L499.0 715.6 L501.0 715.4 L503.0 715.1 L505.0 714.7 L507.0 714.1 L509.0 713.2 L511.0 712.2 L513.0 711.0 L515.0 709.9 L517.0 708.6 L519.0 707.2 L521.0 705.7 L523.0 704.1 L525.0 702.5 L527.0 700.9 L529.0 699.2 L531.0 697.7 L533.0 696.1 L535.0 694.5 L537.0 692.8 L539.0 691.2 L541.0 689.6 L543.0 688.1 L545.0 686.6 L547.0 685.3 L549.0 683.9 L551.0 682.6 L553.0 681.4 L555.0 680.2 L557.0 679.0 L559.0 677.9 L561.0 676.8 L563.0 675.7 L565.0 674.6 L567.0 673.6 L569.0 672.7 L571.0 671.7 L573.0 670.9 L575.0 670.1 L577.0 669.3 L579.0 668.7 L581.0 668.0 L583.0 667.4 L585.0 666.8 L587.0 666.2 L589.0 665.7 L591.0 665.2 L593.0 664.7 L595.0 664.3 L597.0 663.8 L599.0 663.4 L601.0 663.0 L603.0 662.6 L605.0 662.2 L607.0 661.8 L609.0 661.4 L611.0 661.0 L613.0 660.6 L615.0 660.2 L617.0 659.9 L619.0 659.6 L621.0 659.3 L623.0 659.0 L625.0 658.8 L627.0 658.6 L629.0 658.4 L631.0 658.2 L633.0 658.0 L635.0 657.8 L637.0 657.7 L639.0 657.5 L641.0 657.3 L643.0 657.1 L645.0 656.9 L647.0 656.8 L649.0 656.6 L651.0 656.4 L653.0 656.2 L655.0 656.0 L657.0 655.8 L659.0 655.7 L661.0 655.5 L663.0 655.3 L665.0 655.1 L667.0 654.9 L669.0 654.8 L671.0 654.6 L673.0 654.4 L675.0 654.2 L677.0 654.1 L679.0 653.9 L681.0 653.7 L683.0 653.6 L685.0 653.4 L687.0 653.3 L689.0 653.1 L691.0 653.0 L693.0 652.9 L695.0 652.8 L697.0 652.6 L699.0 652.5 L701.0 652.4 L703.0 652.3 L705.0 652.2 L707.0 652.1 L709.0 652.0 L711.0 652.0 L713.0 651.9 L715.0 651.8 L717.0 651.8 L719.0 651.7 L721.0 651.6 L723.0 651.6 L725.0 651.5 L727.0 651.5 L729.0 651.4 L731.0 651.4 L733.0 651.3 L735.0 651.3 L737.0 651.2 L739.0 651.2 L741.0 651.1 L743.0 651.1 L745.0 651.0 L747.0 651.0 L749.0 651.0 L751.0 650.9 L753.0 650.9 L755.0 650.8 L757.0 650.8 L759.0 650.8 L761.0 650.7 L763.0 650.7 L765.0 650.7 L767.0 650.6 L769.0 650.6 L771.0 650.6 L773.0 650.5 L775.0 650.5 L777.0 650.5 L779.0 650.4 L781.0 650.4 L783.0 650.4 L785.0 650.3 L787.0 650.3 L789.0 650.3 L791.0 650.2 L793.0 650.2 L795.0 650.2 L797.0 650.2 L799.0 650.1 L801.0 650.1 L803.0 650.1 L805.0 650.0 L807.0 650.0 L809.0 650.0 L811.0 650.0 L813.0 650.0 L815.0 649.9 L817.0 649.9 L819.0 649.9 L821.0 649.9 L823.0 649.8 L825.0 649.8 L827.0 649.8 L829.0 649.8 L831.0 649.8 L833.0 649.8 L835.0 649.8"/>
<path class="cv" stroke="#008000" d="M185.0 1134.3 L187.0 1134.3 L189.0 1134.3 L191.0 1134.3 L193.0 1134.3 L195.0 1134.3 L197.0 1134.3 L199.0 1134.3 L201.0 1134.3 L203.0 1134.3 L205.0 1134.3 L207.0 1134.3 L209.0 1134.3 L211.0 1134.3 L213.0 1134.3 L215.0 1134.3 L217.0 1134.3 L219.0 1134.3 L221.0 1134.3 L223.0 1134.3 L225.0 1134.3 L227.0 1134.3 L229.0 1134.3 L231.0 1134.3 L233.0 1134.3 L235.0 1134.3 L237.0 1134.3 L239.0 1134.3 L241.0 1134.3 L243.0 1134.3 L245.0 1134.3 L247.0 1134.3 L249.0 1134.3 L251.0 1134.3 L253.0 1134.2 L255.0 1134.2 L257.0 1134.2 L259.0 1134.2 L261.0 1134.1 L263.0 1134.1 L265.0 1134.1 L267.0 1134.1 L269.0 1134.0 L271.0 1134.0 L273.0 1134.0 L275.0 1133.9 L277.0 1133.9 L279.0 1133.9 L281.0 1133.8 L283.0 1133.8 L285.0 1133.7 L287.0 1133.7 L289.0 1133.7 L291.0 1133.6 L293.0 1133.6 L295.0 1133.6 L297.0 1133.5 L299.0 1133.5 L301.0 1133.5 L303.0 1133.5 L305.0 1133.4 L307.0 1133.4 L309.0 1133.3 L311.0 1133.3 L313.0 1133.3 L315.0 1133.2 L317.0 1133.2 L319.0 1133.1 L321.0 1133.1 L323.0 1133.1 L325.0 1133.0 L327.0 1133.0 L329.0 1132.9 L331.0 1132.9 L333.0 1132.9 L335.0 1132.9 L337.0 1132.8 L339.0 1132.8 L341.0 1132.8 L343.0 1132.8 L345.0 1132.8 L347.0 1132.8 L349.0 1132.8 L351.0 1132.9 L353.0 1132.9 L355.0 1133.0 L357.0 1133.0 L359.0 1133.1 L361.0 1133.1 L363.0 1133.2 L365.0 1133.2 L367.0 1133.2 L369.0 1133.2 L371.0 1133.1 L373.0 1133.0 L375.0 1132.9 L377.0 1132.7 L379.0 1132.5 L381.0 1132.3 L383.0 1132.1 L385.0 1131.9 L387.0 1131.6 L389.0 1131.4 L391.0 1131.2 L393.0 1130.9 L395.0 1130.7 L397.0 1130.4 L399.0 1130.1 L401.0 1129.7 L403.0 1129.4 L405.0 1129.0 L407.0 1128.6 L409.0 1128.3 L411.0 1127.9 L413.0 1127.4 L415.0 1127.0 L417.0 1126.6 L419.0 1126.1 L421.0 1125.6 L423.0 1125.1 L425.0 1124.6 L427.0 1124.0 L429.0 1123.4 L431.0 1122.8 L433.0 1122.1 L435.0 1121.4 L437.0 1120.5 L439.0 1119.5 L441.0 1118.6 L443.0 1117.8 L445.0 1117.1 L447.0 1116.5 L449.0 1115.8 L451.0 1115.2 L453.0 1114.5 L455.0 1113.8 L457.0 1113.0 L459.0 1112.3 L461.0 1111.5 L463.0 1110.8 L465.0 1110.2 L467.0 1109.7 L469.0 1109.2 L471.0 1108.6 L473.0 1108.2 L475.0 1107.8 L477.0 1107.5 L479.0 1107.3 L481.0 1107.2 L483.0 1107.1 L485.0 1107.0 L487.0 1107.0 L489.0 1106.9 L491.0 1106.9 L493.0 1106.9 L495.0 1107.0 L497.0 1107.1 L499.0 1107.3 L501.0 1107.5 L503.0 1107.6 L505.0 1107.7 L507.0 1107.6 L509.0 1107.5 L511.0 1107.6 L513.0 1108.7 L515.0 1110.7 L517.0 1113.0 L519.0 1115.3 L521.0 1116.9 L523.0 1117.9 L525.0 1118.8 L527.0 1119.7 L529.0 1120.4 L531.0 1121.0 L533.0 1121.6 L535.0 1122.2 L537.0 1122.8 L539.0 1123.2 L541.0 1123.5 L543.0 1123.5 L545.0 1123.6 L547.0 1123.6 L549.0 1123.7 L551.0 1123.7 L553.0 1123.7 L555.0 1123.7 L557.0 1123.6 L559.0 1123.5 L561.0 1123.4 L563.0 1123.3 L565.0 1123.1 L567.0 1123.0 L569.0 1122.8 L571.0 1122.5 L573.0 1122.3 L575.0 1122.1 L577.0 1121.8 L579.0 1121.5 L581.0 1121.3 L583.0 1121.1 L585.0 1120.8 L587.0 1120.6 L589.0 1120.4 L591.0 1120.2 L593.0 1120.0 L595.0 1119.8 L597.0 1119.6 L599.0 1119.4 L601.0 1119.2 L603.0 1119.0 L605.0 1118.8 L607.0 1118.7 L609.0 1118.5 L611.0 1118.4 L613.0 1118.2 L615.0 1118.1 L617.0 1118.0 L619.0 1117.8 L621.0 1117.6 L623.0 1117.4 L625.0 1117.2 L627.0 1117.0 L629.0 1116.8 L631.0 1116.5 L633.0 1116.3 L635.0 1116.0 L637.0 1115.8 L639.0 1115.5 L641.0 1115.3 L643.0 1115.0 L645.0 1114.8 L647.0 1114.5 L649.0 1114.2 L651.0 1114.0 L653.0 1113.8 L655.0 1113.5 L657.0 1113.3 L659.0 1113.1 L661.0 1112.9 L663.0 1112.7 L665.0 1112.5 L667.0 1112.3 L669.0 1112.1 L671.0 1112.0 L673.0 1111.8 L675.0 1111.6 L677.0 1111.4 L679.0 1111.3 L681.0 1111.1 L683.0 1110.9 L685.0 1110.8 L687.0 1110.6 L689.0 1110.4 L691.0 1110.3 L693.0 1110.1 L695.0 1109.9 L697.0 1109.8 L699.0 1109.6 L701.0 1109.5 L703.0 1109.3 L705.0 1109.1 L707.0 1109.0 L709.0 1108.8 L711.0 1108.7 L713.0 1108.5 L715.0 1108.4 L717.0 1108.2 L719.0 1108.0 L721.0 1107.9 L723.0 1107.7 L725.0 1107.6 L727.0 1107.4 L729.0 1107.3 L731.0 1107.1 L733.0 1107.0 L735.0 1106.8 L737.0 1106.7 L739.0 1106.5 L741.0 1106.4 L743.0 1106.2 L745.0 1106.1 L747.0 1105.9 L749.0 1105.8 L751.0 1105.6 L753.0 1105.5 L755.0 1105.4 L757.0 1105.2 L759.0 1105.1 L761.0 1104.9 L763.0 1104.8 L765.0 1104.6 L767.0 1104.5 L769.0 1104.4 L771.0 1104.2 L773.0 1104.1 L775.0 1104.0 L777.0 1103.8 L779.0 1103.7 L781.0 1103.5 L783.0 1103.4 L785.0 1103.3 L787.0 1103.1 L789.0 1103.0 L791.0 1102.9 L793.0 1102.7 L795.0 1102.6 L797.0 1102.5 L799.0 1102.3 L801.0 1102.2 L803.0 1102.1 L805.0 1101.9 L807.0 1101.8 L809.0 1101.7 L811.0 1101.6 L813.0 1101.4 L815.0 1101.3 L817.0 1101.2 L819.0 1101.0 L821.0 1100.9 L823.0 1100.8 L825.0 1100.7 L827.0 1100.5 L829.0 1100.4 L831.0 1100.3 L833.0 1100.2 L835.0 1100.1"/>
<path class="cv" stroke="#00f" d="M185.0 1135.8 L187.0 1135.9 L189.0 1136.0 L191.0 1136.1 L193.0 1136.2 L195.0 1136.3 L197.0 1136.4 L199.0 1136.5 L201.0 1136.6 L203.0 1136.7 L205.0 1136.8 L207.0 1136.9 L209.0 1137.0 L211.0 1137.0 L213.0 1137.1 L215.0 1137.2 L217.0 1137.2 L219.0 1137.3 L221.0 1137.3 L223.0 1137.4 L225.0 1137.4 L227.0 1137.5 L229.0 1137.5 L231.0 1137.5 L233.0 1137.6 L235.0 1137.6 L237.0 1137.6 L239.0 1137.6 L241.0 1137.6 L243.0 1137.6 L245.0 1137.6 L247.0 1137.6 L249.0 1137.6 L251.0 1137.6 L253.0 1137.5 L255.0 1137.5 L257.0 1137.5 L259.0 1137.5 L261.0 1137.5 L263.0 1137.4 L265.0 1137.4 L267.0 1137.4 L269.0 1137.3 L271.0 1137.3 L273.0 1137.3 L275.0 1137.2 L277.0 1137.2 L279.0 1137.2 L281.0 1137.1 L283.0 1137.1 L285.0 1137.0 L287.0 1137.0 L289.0 1137.0 L291.0 1136.9 L293.0 1136.9 L295.0 1136.8 L297.0 1136.8 L299.0 1136.7 L301.0 1136.7 L303.0 1136.6 L305.0 1136.5 L307.0 1136.5 L309.0 1136.4 L311.0 1136.3 L313.0 1136.2 L315.0 1136.1 L317.0 1135.9 L319.0 1135.8 L321.0 1135.7 L323.0 1135.6 L325.0 1135.4 L327.0 1135.3 L329.0 1135.2 L331.0 1135.1 L333.0 1135.0 L335.0 1134.9 L337.0 1134.7 L339.0 1134.6 L341.0 1134.6 L343.0 1134.5 L345.0 1134.4 L347.0 1134.3 L349.0 1134.3 L351.0 1134.2 L353.0 1134.2 L355.0 1134.1 L357.0 1134.1 L359.0 1134.1 L361.0 1134.0 L363.0 1134.0 L365.0 1133.9 L367.0 1133.8 L369.0 1133.7 L371.0 1133.7 L373.0 1133.5 L375.0 1133.4 L377.0 1133.3 L379.0 1133.2 L381.0 1133.0 L383.0 1132.8 L385.0 1132.7 L387.0 1132.5 L389.0 1132.3 L391.0 1132.1 L393.0 1131.9 L395.0 1131.6 L397.0 1131.4 L399.0 1131.1 L401.0 1130.8 L403.0 1130.5 L405.0 1130.2 L407.0 1129.8 L409.0 1129.5 L411.0 1129.1 L413.0 1128.7 L415.0 1128.4 L417.0 1127.9 L419.0 1127.5 L421.0 1127.1 L423.0 1126.6 L425.0 1126.1 L427.0 1125.6 L429.0 1125.0 L431.0 1124.4 L433.0 1123.8 L435.0 1123.2 L437.0 1122.5 L439.0 1121.6 L441.0 1120.8 L443.0 1120.0 L445.0 1119.3 L447.0 1118.5 L449.0 1117.7 L451.0 1117.0 L453.0 1116.3 L455.0 1115.6 L457.0 1114.9 L459.0 1114.2 L461.0 1113.5 L463.0 1112.9 L465.0 1112.3 L467.0 1111.7 L469.0 1111.1 L471.0 1110.5 L473.0 1110.0 L475.0 1109.5 L477.0 1109.1 L479.0 1108.9 L481.0 1108.8 L483.0 1108.7 L485.0 1108.6 L487.0 1108.6 L489.0 1108.5 L491.0 1108.5 L493.0 1108.5 L495.0 1108.5 L497.0 1108.6 L499.0 1108.7 L501.0 1108.8 L503.0 1108.9 L505.0 1109.0 L507.0 1109.1 L509.0 1109.3 L511.0 1109.2 L513.0 1108.0 L515.0 1105.8 L517.0 1103.4 L519.0 1101.3 L521.0 1099.3 L523.0 1097.3 L525.0 1095.2 L527.0 1093.2 L529.0 1091.2 L531.0 1089.3 L533.0 1087.3 L535.0 1085.4 L537.0 1083.6 L539.0 1081.8 L541.0 1080.0 L543.0 1078.3 L545.0 1076.6 L547.0 1075.0 L549.0 1073.7 L551.0 1072.5 L553.0 1071.4 L555.0 1070.5 L557.0 1069.6 L559.0 1068.8 L561.0 1068.0 L563.0 1067.3 L565.0 1066.6 L567.0 1066.0 L569.0 1065.4 L571.0 1064.8 L573.0 1064.3 L575.0 1063.9 L577.0 1063.4 L579.0 1063.0 L581.0 1062.7 L583.0 1062.3 L585.0 1061.9 L587.0 1061.6 L589.0 1061.3 L591.0 1061.0 L593.0 1060.7 L595.0 1060.5 L597.0 1060.3 L599.0 1060.1 L601.0 1059.9 L603.0 1059.7 L605.0 1059.5 L607.0 1059.4 L609.0 1059.2 L611.0 1059.1 L613.0 1059.0 L615.0 1058.9 L617.0 1058.8 L619.0 1058.8 L621.0 1058.8 L623.0 1058.8 L625.0 1058.8 L627.0 1058.8 L629.0 1058.8 L631.0 1058.8 L633.0 1058.9 L635.0 1058.9 L637.0 1058.9 L639.0 1058.9 L641.0 1058.9 L643.0 1058.9 L645.0 1059.0 L647.0 1059.0 L649.0 1059.0 L651.0 1059.1 L653.0 1059.1 L655.0 1059.2 L657.0 1059.3 L659.0 1059.4 L661.0 1059.5 L663.0 1059.7 L665.0 1059.8 L667.0 1059.9 L669.0 1060.1 L671.0 1060.2 L673.0 1060.4 L675.0 1060.5 L677.0 1060.7 L679.0 1060.8 L681.0 1061.0 L683.0 1061.1 L685.0 1061.2 L687.0 1061.4 L689.0 1061.5 L691.0 1061.6 L693.0 1061.8 L695.0 1061.9 L697.0 1062.0 L699.0 1062.2 L701.0 1062.3 L703.0 1062.4 L705.0 1062.6 L707.0 1062.7 L709.0 1062.8 L711.0 1063.0 L713.0 1063.1 L715.0 1063.2 L717.0 1063.4 L719.0 1063.5 L721.0 1063.6 L723.0 1063.8 L725.0 1063.9 L727.0 1064.0 L729.0 1064.1 L731.0 1064.3 L733.0 1064.4 L735.0 1064.5 L737.0 1064.6 L739.0 1064.7 L741.0 1064.8 L743.0 1064.9 L745.0 1065.0 L747.0 1065.2 L749.0 1065.3 L751.0 1065.4 L753.0 1065.5 L755.0 1065.6 L757.0 1065.7 L759.0 1065.8 L761.0 1065.9 L763.0 1066.0 L765.0 1066.1 L767.0 1066.2 L769.0 1066.2 L771.0 1066.3 L773.0 1066.4 L775.0 1066.5 L777.0 1066.6 L779.0 1066.7 L781.0 1066.8 L783.0 1066.9 L785.0 1067.0 L787.0 1067.1 L789.0 1067.2 L791.0 1067.3 L793.0 1067.4 L795.0 1067.5 L797.0 1067.6 L799.0 1067.6 L801.0 1067.7 L803.0 1067.8 L805.0 1067.9 L807.0 1068.0 L809.0 1068.1 L811.0 1068.2 L813.0 1068.3 L815.0 1068.4 L817.0 1068.4 L819.0 1068.5 L821.0 1068.6 L823.0 1068.7 L825.0 1068.8 L827.0 1068.9 L829.0 1069.0 L831.0 1069.0 L833.0 1069.1 L835.0 1069.2"/>
</g>
<text class="tk" transform="translate(173.9 649.2) scale(1 1.06)" text-anchor="end">2.0</text>
<text class="tk" transform="translate(173.9 775.7) scale(1 1.06)" text-anchor="end">1.5</text>
<text class="tk" transform="translate(173.9 902.2) scale(1 1.06)" text-anchor="end">1.0</text>
<text class="tk" transform="translate(173.9 1028.7) scale(1 1.06)" text-anchor="end">0.5</text>
<text class="tk" transform="translate(173.9 1155.2) scale(1 1.06)" text-anchor="end">0.0</text>
<text class="tk" transform="translate(186.5 1190.5) scale(1 1.06)" text-anchor="middle">-150</text>
<text class="tk" transform="translate(294.3 1190.5) scale(1 1.06)" text-anchor="middle">-100</text>
<text class="tk" transform="translate(402.2 1190.5) scale(1 1.06)" text-anchor="middle">-50</text>
<text class="tk" transform="translate(510.0 1190.5) scale(1 1.06)" text-anchor="middle">0</text>
<text class="tk" transform="translate(617.8 1190.5) scale(1 1.06)" text-anchor="middle">50</text>
<text class="tk" transform="translate(725.7 1190.5) scale(1 1.06)" text-anchor="middle">100</text>
<text class="tk" transform="translate(833.5 1190.5) scale(1 1.06)" text-anchor="middle">150</text>
<text class="ax" transform="translate(390.5 1254.0) scale(1 1.03)">V</text>
<text class="axs" transform="translate(435.0 1280.7) scale(1 0.98)">bias</text>
<text class="ax" transform="translate(510.0 1254.0) scale(1 1.03)">(mV)</text>
<text class="ax" transform="translate(85 891) rotate(-90) scale(1 1.085)" text-anchor="middle">CF</text>
<path class="fr" d="M1009 60H1666M1009 566H1666M1018 59V576M1665 59V576M1013 123.8H1018M1009 187.0H1018M1013 250.2H1018M1009 313.5H1018M1013 376.8H1018M1009 440.0H1018M1013 503.2H1018M1071.9 566V572M1125.8 566V576M1179.8 566V572M1233.7 566V576M1287.6 566V572M1341.5 566V576M1395.4 566V572M1449.3 566V576M1503.2 566V572M1557.2 566V576M1611.1 566V572"/>
<clipPath id="cpc"><rect x="1019" y="61" width="647" height="504"/></clipPath>
<g clip-path="url(#cpc)">
<path class="cv" stroke="#000" d="M1017.0 549.0 L1019.0 549.0 L1021.0 548.9 L1023.0 548.9 L1025.0 548.8 L1027.0 548.8 L1029.0 548.7 L1031.0 548.7 L1033.0 548.6 L1035.0 548.5 L1037.0 548.5 L1039.0 548.4 L1041.0 548.3 L1043.0 548.3 L1045.0 548.2 L1047.0 548.1 L1049.0 548.1 L1051.0 548.0 L1053.0 547.9 L1055.0 547.9 L1057.0 547.8 L1059.0 547.7 L1061.0 547.6 L1063.0 547.6 L1065.0 547.5 L1067.0 547.4 L1069.0 547.3 L1071.0 547.2 L1073.0 547.2 L1075.0 547.1 L1077.0 547.0 L1079.0 546.9 L1081.0 546.8 L1083.0 546.7 L1085.0 546.6 L1087.0 546.5 L1089.0 546.4 L1091.0 546.3 L1093.0 546.2 L1095.0 546.0 L1097.0 545.9 L1099.0 545.8 L1101.0 545.7 L1103.0 545.6 L1105.0 545.5 L1107.0 545.4 L1109.0 545.2 L1111.0 545.1 L1113.0 545.0 L1115.0 544.9 L1117.0 544.8 L1119.0 544.7 L1121.0 544.6 L1123.0 544.5 L1125.0 544.4 L1127.0 544.3 L1129.0 544.2 L1131.0 544.0 L1133.0 543.9 L1135.0 543.8 L1137.0 543.7 L1139.0 543.6 L1141.0 543.5 L1143.0 543.4 L1145.0 543.3 L1147.0 543.2 L1149.0 543.1 L1151.0 543.0 L1153.0 542.9 L1155.0 542.8 L1157.0 542.7 L1159.0 542.6 L1161.0 542.5 L1163.0 542.3 L1165.0 542.3 L1167.0 542.2 L1169.0 542.1 L1171.0 542.0 L1173.0 541.9 L1175.0 541.8 L1177.0 541.7 L1179.0 541.7 L1181.0 541.6 L1183.0 541.5 L1185.0 541.4 L1187.0 541.2 L1189.0 541.1 L1191.0 541.0 L1193.0 540.8 L1195.0 540.6 L1197.0 540.4 L1199.0 540.2 L1201.0 539.9 L1203.0 539.7 L1205.0 539.4 L1207.0 539.0 L1209.0 538.7 L1211.0 538.3 L1213.0 538.0 L1215.0 537.6 L1217.0 537.2 L1219.0 536.8 L1221.0 536.4 L1223.0 535.9 L1225.0 535.4 L1227.0 534.9 L1229.0 534.3 L1231.0 533.7 L1233.0 533.1 L1235.0 532.4 L1237.0 531.8 L1239.0 531.1 L1241.0 530.5 L1243.0 529.8 L1245.0 529.1 L1247.0 528.4 L1249.0 527.6 L1251.0 526.8 L1253.0 526.1 L1255.0 525.3 L1257.0 524.4 L1259.0 523.6 L1261.0 522.8 L1263.0 521.9 L1265.0 521.0 L1267.0 520.0 L1269.0 519.1 L1271.0 518.1 L1273.0 517.1 L1275.0 516.1 L1277.0 515.1 L1279.0 514.0 L1281.0 513.0 L1283.0 511.9 L1285.0 510.8 L1287.0 509.8 L1289.0 508.7 L1291.0 507.7 L1293.0 506.6 L1295.0 505.6 L1297.0 504.6 L1299.0 503.6 L1301.0 502.6 L1303.0 501.7 L1305.0 500.9 L1307.0 500.0 L1309.0 499.3 L1311.0 498.6 L1313.0 497.9 L1315.0 497.2 L1317.0 496.5 L1319.0 496.0 L1321.0 495.5 L1323.0 495.2 L1325.0 494.9 L1327.0 494.7 L1329.0 494.5 L1331.0 494.3 L1333.0 494.1 L1335.0 493.8 L1337.0 493.6 L1339.0 493.3 L1341.0 493.0 L1343.0 492.6 L1345.0 492.3 L1347.0 491.9 L1349.0 491.4 L1351.0 490.9 L1353.0 490.3 L1355.0 489.7 L1357.0 489.0 L1359.0 488.2 L1361.0 487.5 L1363.0 486.8 L1365.0 486.0 L1367.0 485.1 L1369.0 484.3 L1371.0 483.4 L1373.0 482.5 L1375.0 481.6 L1377.0 480.6 L1379.0 479.6 L1381.0 478.6 L1383.0 477.6 L1385.0 476.6 L1387.0 475.6 L1389.0 474.6 L1391.0 473.7 L1393.0 472.7 L1395.0 471.8 L1397.0 470.9 L1399.0 470.0 L1401.0 469.1 L1403.0 468.3 L1405.0 467.5 L1407.0 466.6 L1409.0 465.8 L1411.0 465.1 L1413.0 464.4 L1415.0 463.7 L1417.0 463.0 L1419.0 462.4 L1421.0 461.8 L1423.0 461.2 L1425.0 460.7 L1427.0 460.2 L1429.0 459.7 L1431.0 459.3 L1433.0 458.9 L1435.0 458.6 L1437.0 458.2 L1439.0 457.8 L1441.0 457.4 L1443.0 457.0 L1445.0 456.6 L1447.0 456.3 L1449.0 455.9 L1451.0 455.7 L1453.0 455.4 L1455.0 455.1 L1457.0 454.9 L1459.0 454.6 L1461.0 454.4 L1463.0 454.1 L1465.0 453.9 L1467.0 453.7 L1469.0 453.5 L1471.0 453.3 L1473.0 453.1 L1475.0 452.9 L1477.0 452.7 L1479.0 452.5 L1481.0 452.3 L1483.0 452.1 L1485.0 452.0 L1487.0 451.8 L1489.0 451.6 L1491.0 451.4 L1493.0 451.2 L1495.0 451.1 L1497.0 450.9 L1499.0 450.7 L1501.0 450.6 L1503.0 450.4 L1505.0 450.2 L1507.0 450.1 L1509.0 449.9 L1511.0 449.7 L1513.0 449.6 L1515.0 449.4 L1517.0 449.3 L1519.0 449.1 L1521.0 449.0 L1523.0 448.8 L1525.0 448.7 L1527.0 448.5 L1529.0 448.4 L1531.0 448.3 L1533.0 448.1 L1535.0 448.0 L1537.0 447.9 L1539.0 447.7 L1541.0 447.6 L1543.0 447.5 L1545.0 447.4 L1547.0 447.3 L1549.0 447.2 L1551.0 447.0 L1553.0 446.9 L1555.0 446.8 L1557.0 446.7 L1559.0 446.6 L1561.0 446.5 L1563.0 446.4 L1565.0 446.3 L1567.0 446.2 L1569.0 446.1 L1571.0 446.0 L1573.0 445.9 L1575.0 445.8 L1577.0 445.7 L1579.0 445.6 L1581.0 445.5 L1583.0 445.5 L1585.0 445.4 L1587.0 445.3 L1589.0 445.2 L1591.0 445.1 L1593.0 445.0 L1595.0 444.9 L1597.0 444.8 L1599.0 444.7 L1601.0 444.6 L1603.0 444.6 L1605.0 444.5 L1607.0 444.4 L1609.0 444.3 L1611.0 444.2 L1613.0 444.1 L1615.0 444.0 L1617.0 444.0 L1619.0 443.9 L1621.0 443.8 L1623.0 443.7 L1625.0 443.6 L1627.0 443.5 L1629.0 443.5 L1631.0 443.4 L1633.0 443.3 L1635.0 443.2 L1637.0 443.1 L1639.0 443.1 L1641.0 443.0 L1643.0 442.9 L1645.0 442.8 L1647.0 442.8 L1649.0 442.7 L1651.0 442.6 L1653.0 442.5 L1655.0 442.5 L1657.0 442.4 L1659.0 442.3 L1661.0 442.2 L1663.0 442.2 L1665.0 442.1 L1667.0 442.0"/>
<path class="cv" stroke="#f00" d="M1017.0 343.0 L1019.0 343.3 L1021.0 343.7 L1023.0 344.0 L1025.0 344.3 L1027.0 344.7 L1029.0 345.0 L1031.0 345.3 L1033.0 345.7 L1035.0 346.0 L1037.0 346.3 L1039.0 346.7 L1041.0 347.0 L1043.0 347.3 L1045.0 347.7 L1047.0 348.0 L1049.0 348.3 L1051.0 348.7 L1053.0 349.0 L1055.0 349.3 L1057.0 349.7 L1059.0 350.0 L1061.0 350.3 L1063.0 350.7 L1065.0 351.0 L1067.0 351.3 L1069.0 351.7 L1071.0 352.0 L1073.0 352.3 L1075.0 352.7 L1077.0 353.0 L1079.0 353.3 L1081.0 353.6 L1083.0 354.0 L1085.0 354.3 L1087.0 354.6 L1089.0 354.9 L1091.0 355.3 L1093.0 355.6 L1095.0 355.9 L1097.0 356.2 L1099.0 356.6 L1101.0 356.9 L1103.0 357.2 L1105.0 357.6 L1107.0 357.9 L1109.0 358.2 L1111.0 358.6 L1113.0 358.9 L1115.0 359.2 L1117.0 359.6 L1119.0 359.9 L1121.0 360.3 L1123.0 360.6 L1125.0 361.0 L1127.0 361.3 L1129.0 361.6 L1131.0 362.0 L1133.0 362.3 L1135.0 362.7 L1137.0 363.0 L1139.0 363.4 L1141.0 363.7 L1143.0 364.1 L1145.0 364.4 L1147.0 364.8 L1149.0 365.1 L1151.0 365.5 L1153.0 365.9 L1155.0 366.2 L1157.0 366.6 L1159.0 367.0 L1161.0 367.4 L1163.0 367.8 L1165.0 368.2 L1167.0 368.6 L1169.0 369.0 L1171.0 369.4 L1173.0 369.8 L1175.0 370.2 L1177.0 370.6 L1179.0 371.0 L1181.0 371.4 L1183.0 371.8 L1185.0 372.3 L1187.0 372.8 L1189.0 373.2 L1191.0 373.7 L1193.0 374.2 L1195.0 374.8 L1197.0 375.4 L1199.0 376.0 L1201.0 376.6 L1203.0 377.2 L1205.0 377.9 L1207.0 378.5 L1209.0 379.2 L1211.0 379.9 L1213.0 380.7 L1215.0 381.4 L1217.0 382.1 L1219.0 382.9 L1221.0 383.7 L1223.0 384.4 L1225.0 385.3 L1227.0 386.1 L1229.0 387.0 L1231.0 387.8 L1233.0 388.7 L1235.0 389.6 L1237.0 390.5 L1239.0 391.4 L1241.0 392.3 L1243.0 393.2 L1245.0 394.2 L1247.0 395.1 L1249.0 396.1 L1251.0 397.0 L1253.0 398.0 L1255.0 399.0 L1257.0 400.0 L1259.0 401.0 L1261.0 402.0 L1263.0 403.0 L1265.0 403.9 L1267.0 404.9 L1269.0 405.8 L1271.0 406.8 L1273.0 407.6 L1275.0 408.5 L1277.0 409.4 L1279.0 410.2 L1281.0 411.1 L1283.0 412.0 L1285.0 412.9 L1287.0 413.9 L1289.0 414.9 L1291.0 415.9 L1293.0 416.8 L1295.0 417.6 L1297.0 418.3 L1299.0 419.0 L1301.0 419.6 L1303.0 420.2 L1305.0 420.7 L1307.0 421.1 L1309.0 421.4 L1311.0 421.6 L1313.0 421.8 L1315.0 422.0 L1317.0 422.2 L1319.0 422.3 L1321.0 422.4 L1323.0 422.4 L1325.0 422.4 L1327.0 422.3 L1329.0 422.2 L1331.0 422.1 L1333.0 422.0 L1335.0 422.0 L1337.0 422.0 L1339.0 422.0 L1341.0 421.9 L1343.0 421.9 L1345.0 421.9 L1347.0 421.9 L1349.0 421.9 L1351.0 421.9 L1353.0 421.9 L1355.0 422.0 L1357.0 422.0 L1359.0 422.1 L1361.0 422.2 L1363.0 422.3 L1365.0 422.7 L1367.0 423.1 L1369.0 423.6 L1371.0 424.1 L1373.0 424.7 L1375.0 425.2 L1377.0 425.7 L1379.0 426.2 L1381.0 426.7 L1383.0 427.3 L1385.0 427.8 L1387.0 428.3 L1389.0 428.8 L1391.0 429.3 L1393.0 429.7 L1395.0 430.2 L1397.0 430.6 L1399.0 431.0 L1401.0 431.4 L1403.0 431.8 L1405.0 432.2 L1407.0 432.6 L1409.0 432.9 L1411.0 433.3 L1413.0 433.6 L1415.0 433.9 L1417.0 434.2 L1419.0 434.5 L1421.0 434.8 L1423.0 435.1 L1425.0 435.3 L1427.0 435.6 L1429.0 435.8 L1431.0 436.0 L1433.0 436.1 L1435.0 436.3 L1437.0 436.5 L1439.0 436.7 L1441.0 436.8 L1443.0 437.0 L1445.0 437.1 L1447.0 437.2 L1449.0 437.3 L1451.0 437.5 L1453.0 437.6 L1455.0 437.7 L1457.0 437.8 L1459.0 437.9 L1461.0 438.0 L1463.0 438.0 L1465.0 438.1 L1467.0 438.2 L1469.0 438.3 L1471.0 438.4 L1473.0 438.5 L1475.0 438.5 L1477.0 438.6 L1479.0 438.7 L1481.0 438.8 L1483.0 438.8 L1485.0 438.9 L1487.0 439.0 L1489.0 439.0 L1491.0 439.1 L1493.0 439.2 L1495.0 439.2 L1497.0 439.3 L1499.0 439.4 L1501.0 439.4 L1503.0 439.5 L1505.0 439.6 L1507.0 439.6 L1509.0 439.7 L1511.0 439.8 L1513.0 439.8 L1515.0 439.9 L1517.0 440.0 L1519.0 440.0 L1521.0 440.1 L1523.0 440.2 L1525.0 440.3 L1527.0 440.3 L1529.0 440.4 L1531.0 440.5 L1533.0 440.5 L1535.0 440.6 L1537.0 440.7 L1539.0 440.8 L1541.0 440.8 L1543.0 440.9 L1545.0 441.0 L1547.0 441.0 L1549.0 441.1 L1551.0 441.2 L1553.0 441.2 L1555.0 441.3 L1557.0 441.4 L1559.0 441.5 L1561.0 441.5 L1563.0 441.6 L1565.0 441.7 L1567.0 441.7 L1569.0 441.8 L1571.0 441.8 L1573.0 441.9 L1575.0 442.0 L1577.0 442.0 L1579.0 442.1 L1581.0 442.2 L1583.0 442.2 L1585.0 442.3 L1587.0 442.3 L1589.0 442.4 L1591.0 442.4 L1593.0 442.5 L1595.0 442.6 L1597.0 442.6 L1599.0 442.7 L1601.0 442.7 L1603.0 442.8 L1605.0 442.8 L1607.0 442.9 L1609.0 443.0 L1611.0 443.0 L1613.0 443.1 L1615.0 443.2 L1617.0 443.2 L1619.0 443.3 L1621.0 443.3 L1623.0 443.4 L1625.0 443.5 L1627.0 443.5 L1629.0 443.6 L1631.0 443.7 L1633.0 443.7 L1635.0 443.8 L1637.0 443.9 L1639.0 444.0 L1641.0 444.0 L1643.0 444.1 L1645.0 444.2 L1647.0 444.2 L1649.0 444.3 L1651.0 444.4 L1653.0 444.4 L1655.0 444.5 L1657.0 444.6 L1659.0 444.7 L1661.0 444.7 L1663.0 444.8 L1665.0 444.9 L1667.0 445.0"/>
<path class="cv" stroke="#0f0" d="M1017.0 86.2 L1019.0 86.9 L1021.0 87.5 L1023.0 88.1 L1025.0 88.7 L1027.0 89.3 L1029.0 89.8 L1031.0 90.4 L1033.0 91.0 L1035.0 91.6 L1037.0 92.1 L1039.0 92.7 L1041.0 93.2 L1043.0 93.8 L1045.0 94.3 L1047.0 94.8 L1049.0 95.3 L1051.0 95.8 L1053.0 96.3 L1055.0 96.8 L1057.0 97.3 L1059.0 97.8 L1061.0 98.3 L1063.0 98.8 L1065.0 99.3 L1067.0 99.8 L1069.0 100.2 L1071.0 100.8 L1073.0 101.2 L1075.0 101.8 L1077.0 102.2 L1079.0 102.8 L1081.0 103.2 L1083.0 103.8 L1085.0 104.2 L1087.0 104.8 L1089.0 105.2 L1091.0 105.8 L1093.0 106.2 L1095.0 106.7 L1097.0 107.2 L1099.0 107.7 L1101.0 108.2 L1103.0 108.7 L1105.0 109.2 L1107.0 109.7 L1109.0 110.2 L1111.0 110.7 L1113.0 111.2 L1115.0 111.7 L1117.0 112.2 L1119.0 112.8 L1121.0 113.3 L1123.0 113.8 L1125.0 114.3 L1127.0 114.9 L1129.0 115.4 L1131.0 115.9 L1133.0 116.5 L1135.0 117.0 L1137.0 117.6 L1139.0 118.1 L1141.0 118.7 L1143.0 119.2 L1145.0 119.8 L1147.0 120.4 L1149.0 121.0 L1151.0 121.6 L1153.0 122.3 L1155.0 122.9 L1157.0 123.5 L1159.0 124.2 L1161.0 124.8 L1163.0 125.4 L1165.0 126.1 L1167.0 126.7 L1169.0 127.3 L1171.0 127.9 L1173.0 128.6 L1175.0 129.2 L1177.0 129.9 L1179.0 130.5 L1181.0 131.1 L1183.0 131.8 L1185.0 132.4 L1187.0 133.1 L1189.0 133.7 L1191.0 134.4 L1193.0 135.0 L1195.0 135.6 L1197.0 136.3 L1199.0 136.9 L1201.0 137.5 L1203.0 138.1 L1205.0 138.7 L1207.0 139.3 L1209.0 139.9 L1211.0 140.5 L1213.0 141.1 L1215.0 141.6 L1217.0 142.2 L1219.0 142.7 L1221.0 143.3 L1223.0 143.8 L1225.0 144.3 L1227.0 144.8 L1229.0 145.3 L1231.0 145.8 L1233.0 146.4 L1235.0 146.9 L1237.0 147.4 L1239.0 147.8 L1241.0 148.1 L1243.0 148.4 L1245.0 148.7 L1247.0 149.0 L1249.0 149.3 L1251.0 149.5 L1253.0 149.6 L1255.0 149.8 L1257.0 149.8 L1259.0 149.8 L1261.0 149.8 L1263.0 149.8 L1265.0 149.8 L1267.0 149.8 L1269.0 149.8 L1271.0 149.8 L1273.0 149.8 L1275.0 149.7 L1277.0 149.4 L1279.0 149.1 L1281.0 148.7 L1283.0 148.3 L1285.0 147.8 L1287.0 147.4 L1289.0 146.9 L1291.0 146.3 L1293.0 145.6 L1295.0 144.9 L1297.0 144.2 L1299.0 143.5 L1301.0 142.8 L1303.0 142.1 L1305.0 141.5 L1307.0 140.9 L1309.0 140.3 L1311.0 139.6 L1313.0 139.1 L1315.0 138.5 L1317.0 137.9 L1319.0 137.4 L1321.0 136.9 L1323.0 136.4 L1325.0 136.0 L1327.0 135.5 L1329.0 135.0 L1331.0 134.5 L1333.0 133.9 L1335.0 133.3 L1337.0 132.7 L1339.0 132.1 L1341.0 131.4 L1343.0 130.7 L1345.0 129.9 L1347.0 129.1 L1349.0 128.3 L1351.0 127.3 L1353.0 126.3 L1355.0 125.2 L1357.0 124.1 L1359.0 123.0 L1361.0 121.9 L1363.0 120.8 L1365.0 119.7 L1367.0 118.6 L1369.0 117.4 L1371.0 116.3 L1373.0 115.2 L1375.0 114.0 L1377.0 113.0 L1379.0 111.9 L1381.0 110.8 L1383.0 109.8 L1385.0 108.8 L1387.0 107.7 L1389.0 106.8 L1391.0 105.8 L1393.0 104.9 L1395.0 104.0 L1397.0 103.1 L1399.0 102.3 L1401.0 101.4 L1403.0 100.6 L1405.0 99.8 L1407.0 99.0 L1409.0 98.3 L1411.0 97.5 L1413.0 96.8 L1415.0 96.1 L1417.0 95.4 L1419.0 94.8 L1421.0 94.1 L1423.0 93.5 L1425.0 92.9 L1427.0 92.3 L1429.0 91.8 L1431.0 91.2 L1433.0 90.7 L1435.0 90.2 L1437.0 89.7 L1439.0 89.3 L1441.0 88.8 L1443.0 88.4 L1445.0 88.0 L1447.0 87.6 L1449.0 87.2 L1451.0 86.9 L1453.0 86.6 L1455.0 86.2 L1457.0 85.9 L1459.0 85.7 L1461.0 85.4 L1463.0 85.1 L1465.0 84.9 L1467.0 84.6 L1469.0 84.4 L1471.0 84.1 L1473.0 83.9 L1475.0 83.6 L1477.0 83.4 L1479.0 83.2 L1481.0 82.9 L1483.0 82.7 L1485.0 82.4 L1487.0 82.2 L1489.0 82.0 L1491.0 81.7 L1493.0 81.5 L1495.0 81.2 L1497.0 81.0 L1499.0 80.8 L1501.0 80.5 L1503.0 80.3 L1505.0 80.1 L1507.0 79.9 L1509.0 79.6 L1511.0 79.4 L1513.0 79.2 L1515.0 79.0 L1517.0 78.8 L1519.0 78.6 L1521.0 78.5 L1523.0 78.3 L1525.0 78.1 L1527.0 77.9 L1529.0 77.8 L1531.0 77.7 L1533.0 77.5 L1535.0 77.4 L1537.0 77.3 L1539.0 77.2 L1541.0 77.1 L1543.0 77.0 L1545.0 76.9 L1547.0 76.8 L1549.0 76.8 L1551.0 76.7 L1553.0 76.6 L1555.0 76.6 L1557.0 76.5 L1559.0 76.4 L1561.0 76.3 L1563.0 76.3 L1565.0 76.2 L1567.0 76.2 L1569.0 76.1 L1571.0 76.1 L1573.0 76.0 L1575.0 76.0 L1577.0 75.9 L1579.0 75.9 L1581.0 75.8 L1583.0 75.8 L1585.0 75.8 L1587.0 75.8 L1589.0 75.8 L1591.0 75.8 L1593.0 75.8 L1595.0 75.8 L1597.0 75.8 L1599.0 75.8 L1601.0 75.8 L1603.0 75.8 L1605.0 75.8 L1607.0 75.8 L1609.0 75.8 L1611.0 75.8 L1613.0 75.8 L1615.0 75.8 L1617.0 75.8 L1619.0 75.8 L1621.0 75.8 L1623.0 75.8 L1625.0 75.8 L1627.0 75.8 L1629.0 75.8 L1631.0 75.8 L1633.0 75.8 L1635.0 75.8 L1637.0 75.8 L1639.0 75.8 L1641.0 75.8 L1643.0 75.8 L1645.0 75.8 L1647.0 75.8 L1649.0 75.8 L1651.0 75.8 L1653.0 75.8 L1655.0 75.8 L1657.0 75.8 L1659.0 75.8 L1661.0 75.8 L1663.0 75.8 L1665.0 75.8 L1667.0 75.8"/>
<path class="cv" stroke="#008000" d="M1017.0 553.8 L1019.0 553.9 L1021.0 553.9 L1023.0 553.9 L1025.0 554.0 L1027.0 554.0 L1029.0 554.1 L1031.0 554.1 L1033.0 554.1 L1035.0 554.1 L1037.0 554.2 L1039.0 554.2 L1041.0 554.2 L1043.0 554.2 L1045.0 554.2 L1047.0 554.3 L1049.0 554.3 L1051.0 554.3 L1053.0 554.3 L1055.0 554.3 L1057.0 554.3 L1059.0 554.3 L1061.0 554.3 L1063.0 554.3 L1065.0 554.3 L1067.0 554.3 L1069.0 554.3 L1071.0 554.3 L1073.0 554.3 L1075.0 554.3 L1077.0 554.3 L1079.0 554.2 L1081.0 554.2 L1083.0 554.2 L1085.0 554.1 L1087.0 554.1 L1089.0 554.0 L1091.0 553.9 L1093.0 553.9 L1095.0 553.8 L1097.0 553.7 L1099.0 553.7 L1101.0 553.6 L1103.0 553.5 L1105.0 553.5 L1107.0 553.4 L1109.0 553.4 L1111.0 553.3 L1113.0 553.3 L1115.0 553.2 L1117.0 553.2 L1119.0 553.2 L1121.0 553.1 L1123.0 553.1 L1125.0 553.1 L1127.0 553.1 L1129.0 553.0 L1131.0 553.0 L1133.0 553.0 L1135.0 553.0 L1137.0 553.0 L1139.0 552.9 L1141.0 552.9 L1143.0 552.9 L1145.0 552.9 L1147.0 552.9 L1149.0 552.8 L1151.0 552.8 L1153.0 552.8 L1155.0 552.8 L1157.0 552.8 L1159.0 552.8 L1161.0 552.8 L1163.0 552.8 L1165.0 552.8 L1167.0 552.8 L1169.0 552.8 L1171.0 552.8 L1173.0 552.8 L1175.0 552.8 L1177.0 552.8 L1179.0 552.8 L1181.0 552.8 L1183.0 552.8 L1185.0 552.8 L1187.0 552.8 L1189.0 552.8 L1191.0 552.8 L1193.0 552.8 L1195.0 552.8 L1197.0 552.7 L1199.0 552.6 L1201.0 552.5 L1203.0 552.4 L1205.0 552.2 L1207.0 552.0 L1209.0 551.9 L1211.0 551.7 L1213.0 551.5 L1215.0 551.3 L1217.0 551.0 L1219.0 550.8 L1221.0 550.6 L1223.0 550.4 L1225.0 550.2 L1227.0 549.9 L1229.0 549.6 L1231.0 549.3 L1233.0 549.0 L1235.0 548.6 L1237.0 548.3 L1239.0 547.9 L1241.0 547.5 L1243.0 547.1 L1245.0 546.7 L1247.0 546.3 L1249.0 545.9 L1251.0 545.4 L1253.0 545.0 L1255.0 544.5 L1257.0 544.0 L1259.0 543.5 L1261.0 542.9 L1263.0 542.4 L1265.0 541.9 L1267.0 541.4 L1269.0 540.9 L1271.0 540.3 L1273.0 539.8 L1275.0 539.2 L1277.0 538.7 L1279.0 538.1 L1281.0 537.6 L1283.0 537.0 L1285.0 536.4 L1287.0 535.9 L1289.0 535.3 L1291.0 534.7 L1293.0 534.1 L1295.0 533.6 L1297.0 533.1 L1299.0 532.5 L1301.0 532.0 L1303.0 531.4 L1305.0 531.0 L1307.0 530.6 L1309.0 530.3 L1311.0 530.1 L1313.0 530.0 L1315.0 529.8 L1317.0 529.7 L1319.0 529.6 L1321.0 529.5 L1323.0 529.5 L1325.0 529.4 L1327.0 529.4 L1329.0 529.4 L1331.0 529.4 L1333.0 529.3 L1335.0 529.3 L1337.0 529.2 L1339.0 529.1 L1341.0 529.0 L1343.0 529.0 L1345.0 529.3 L1347.0 529.7 L1349.0 530.2 L1351.0 530.8 L1353.0 531.5 L1355.0 532.1 L1357.0 532.8 L1359.0 533.7 L1361.0 534.5 L1363.0 535.3 L1365.0 536.0 L1367.0 536.6 L1369.0 537.3 L1371.0 537.8 L1373.0 538.2 L1375.0 538.5 L1377.0 538.6 L1379.0 538.7 L1381.0 538.8 L1383.0 538.9 L1385.0 538.9 L1387.0 538.9 L1389.0 538.8 L1391.0 538.7 L1393.0 538.5 L1395.0 538.4 L1397.0 538.3 L1399.0 538.1 L1401.0 537.9 L1403.0 537.7 L1405.0 537.4 L1407.0 537.2 L1409.0 536.9 L1411.0 536.7 L1413.0 536.5 L1415.0 536.2 L1417.0 536.0 L1419.0 535.8 L1421.0 535.7 L1423.0 535.5 L1425.0 535.3 L1427.0 535.1 L1429.0 534.9 L1431.0 534.7 L1433.0 534.5 L1435.0 534.3 L1437.0 534.1 L1439.0 533.9 L1441.0 533.7 L1443.0 533.6 L1445.0 533.4 L1447.0 533.2 L1449.0 533.0 L1451.0 532.8 L1453.0 532.6 L1455.0 532.4 L1457.0 532.2 L1459.0 532.0 L1461.0 531.8 L1463.0 531.6 L1465.0 531.4 L1467.0 531.2 L1469.0 531.0 L1471.0 530.8 L1473.0 530.6 L1475.0 530.4 L1477.0 530.2 L1479.0 530.0 L1481.0 529.8 L1483.0 529.6 L1485.0 529.5 L1487.0 529.3 L1489.0 529.1 L1491.0 528.9 L1493.0 528.8 L1495.0 528.6 L1497.0 528.4 L1499.0 528.3 L1501.0 528.1 L1503.0 527.9 L1505.0 527.8 L1507.0 527.6 L1509.0 527.5 L1511.0 527.3 L1513.0 527.2 L1515.0 527.0 L1517.0 526.9 L1519.0 526.7 L1521.0 526.6 L1523.0 526.4 L1525.0 526.3 L1527.0 526.1 L1529.0 526.0 L1531.0 525.8 L1533.0 525.7 L1535.0 525.6 L1537.0 525.4 L1539.0 525.3 L1541.0 525.1 L1543.0 525.0 L1545.0 524.9 L1547.0 524.7 L1549.0 524.6 L1551.0 524.4 L1553.0 524.3 L1555.0 524.2 L1557.0 524.0 L1559.0 523.9 L1561.0 523.8 L1563.0 523.6 L1565.0 523.5 L1567.0 523.4 L1569.0 523.2 L1571.0 523.1 L1573.0 523.0 L1575.0 522.8 L1577.0 522.7 L1579.0 522.6 L1581.0 522.5 L1583.0 522.3 L1585.0 522.2 L1587.0 522.1 L1589.0 522.0 L1591.0 521.9 L1593.0 521.8 L1595.0 521.6 L1597.0 521.5 L1599.0 521.4 L1601.0 521.3 L1603.0 521.2 L1605.0 521.1 L1607.0 521.0 L1609.0 520.9 L1611.0 520.7 L1613.0 520.6 L1615.0 520.5 L1617.0 520.4 L1619.0 520.3 L1621.0 520.2 L1623.0 520.1 L1625.0 520.0 L1627.0 519.9 L1629.0 519.8 L1631.0 519.7 L1633.0 519.6 L1635.0 519.5 L1637.0 519.4 L1639.0 519.3 L1641.0 519.2 L1643.0 519.1 L1645.0 519.0 L1647.0 518.9 L1649.0 518.8 L1651.0 518.7 L1653.0 518.6 L1655.0 518.6 L1657.0 518.5 L1659.0 518.4 L1661.0 518.3 L1663.0 518.2 L1665.0 518.1 L1667.0 518.0"/>
<path class="cv" stroke="#00f" d="M1017.0 555.5 L1019.0 555.6 L1021.0 555.8 L1023.0 555.9 L1025.0 556.0 L1027.0 556.1 L1029.0 556.3 L1031.0 556.4 L1033.0 556.5 L1035.0 556.6 L1037.0 556.7 L1039.0 556.7 L1041.0 556.8 L1043.0 556.9 L1045.0 557.0 L1047.0 557.0 L1049.0 557.1 L1051.0 557.1 L1053.0 557.2 L1055.0 557.2 L1057.0 557.3 L1059.0 557.3 L1061.0 557.3 L1063.0 557.4 L1065.0 557.4 L1067.0 557.4 L1069.0 557.4 L1071.0 557.4 L1073.0 557.4 L1075.0 557.4 L1077.0 557.4 L1079.0 557.3 L1081.0 557.3 L1083.0 557.2 L1085.0 557.2 L1087.0 557.1 L1089.0 557.1 L1091.0 557.0 L1093.0 556.9 L1095.0 556.8 L1097.0 556.7 L1099.0 556.7 L1101.0 556.6 L1103.0 556.5 L1105.0 556.4 L1107.0 556.3 L1109.0 556.2 L1111.0 556.1 L1113.0 556.1 L1115.0 556.0 L1117.0 555.9 L1119.0 555.8 L1121.0 555.8 L1123.0 555.7 L1125.0 555.6 L1127.0 555.5 L1129.0 555.5 L1131.0 555.4 L1133.0 555.3 L1135.0 555.2 L1137.0 555.1 L1139.0 555.1 L1141.0 555.0 L1143.0 554.9 L1145.0 554.8 L1147.0 554.7 L1149.0 554.7 L1151.0 554.6 L1153.0 554.5 L1155.0 554.4 L1157.0 554.4 L1159.0 554.3 L1161.0 554.2 L1163.0 554.2 L1165.0 554.1 L1167.0 554.0 L1169.0 554.0 L1171.0 553.9 L1173.0 553.9 L1175.0 553.8 L1177.0 553.8 L1179.0 553.7 L1181.0 553.7 L1183.0 553.6 L1185.0 553.6 L1187.0 553.5 L1189.0 553.4 L1191.0 553.3 L1193.0 553.3 L1195.0 553.2 L1197.0 553.1 L1199.0 553.0 L1201.0 552.9 L1203.0 552.8 L1205.0 552.7 L1207.0 552.5 L1209.0 552.4 L1211.0 552.3 L1213.0 552.1 L1215.0 552.0 L1217.0 551.8 L1219.0 551.7 L1221.0 551.5 L1223.0 551.3 L1225.0 551.1 L1227.0 550.9 L1229.0 550.6 L1231.0 550.3 L1233.0 550.0 L1235.0 549.7 L1237.0 549.4 L1239.0 549.0 L1241.0 548.7 L1243.0 548.3 L1245.0 547.9 L1247.0 547.6 L1249.0 547.1 L1251.0 546.7 L1253.0 546.3 L1255.0 545.8 L1257.0 545.3 L1259.0 544.8 L1261.0 544.3 L1263.0 543.8 L1265.0 543.2 L1267.0 542.7 L1269.0 542.1 L1271.0 541.5 L1273.0 540.9 L1275.0 540.2 L1277.0 539.6 L1279.0 538.9 L1281.0 538.3 L1283.0 537.7 L1285.0 537.1 L1287.0 536.5 L1289.0 536.0 L1291.0 535.4 L1293.0 534.9 L1295.0 534.4 L1297.0 533.9 L1299.0 533.4 L1301.0 533.0 L1303.0 532.5 L1305.0 532.1 L1307.0 531.8 L1309.0 531.5 L1311.0 531.3 L1313.0 531.0 L1315.0 530.8 L1317.0 530.6 L1319.0 530.5 L1321.0 530.4 L1323.0 530.3 L1325.0 530.2 L1327.0 530.1 L1329.0 530.1 L1331.0 530.0 L1333.0 530.0 L1335.0 529.9 L1337.0 529.9 L1339.0 529.8 L1341.0 529.7 L1343.0 529.6 L1345.0 528.9 L1347.0 527.9 L1349.0 526.6 L1351.0 525.2 L1353.0 523.9 L1355.0 522.7 L1357.0 521.5 L1359.0 520.2 L1361.0 518.9 L1363.0 517.7 L1365.0 516.4 L1367.0 515.1 L1369.0 513.8 L1371.0 512.6 L1373.0 511.3 L1375.0 510.2 L1377.0 509.1 L1379.0 508.1 L1381.0 507.1 L1383.0 506.1 L1385.0 505.2 L1387.0 504.3 L1389.0 503.4 L1391.0 502.6 L1393.0 501.7 L1395.0 501.0 L1397.0 500.2 L1399.0 499.5 L1401.0 498.9 L1403.0 498.4 L1405.0 497.8 L1407.0 497.3 L1409.0 496.9 L1411.0 496.4 L1413.0 496.0 L1415.0 495.6 L1417.0 495.2 L1419.0 494.8 L1421.0 494.5 L1423.0 494.1 L1425.0 493.8 L1427.0 493.5 L1429.0 493.3 L1431.0 493.0 L1433.0 492.8 L1435.0 492.6 L1437.0 492.3 L1439.0 492.2 L1441.0 492.0 L1443.0 491.8 L1445.0 491.6 L1447.0 491.4 L1449.0 491.3 L1451.0 491.3 L1453.0 491.3 L1455.0 491.2 L1457.0 491.2 L1459.0 491.2 L1461.0 491.2 L1463.0 491.1 L1465.0 491.1 L1467.0 491.1 L1469.0 491.1 L1471.0 491.1 L1473.0 491.1 L1475.0 491.0 L1477.0 491.0 L1479.0 491.0 L1481.0 491.0 L1483.0 491.0 L1485.0 491.0 L1487.0 491.0 L1489.0 491.0 L1491.0 491.0 L1493.0 491.0 L1495.0 491.0 L1497.0 491.0 L1499.0 491.0 L1501.0 491.0 L1503.0 491.1 L1505.0 491.1 L1507.0 491.1 L1509.0 491.1 L1511.0 491.1 L1513.0 491.2 L1515.0 491.2 L1517.0 491.2 L1519.0 491.3 L1521.0 491.3 L1523.0 491.3 L1525.0 491.4 L1527.0 491.4 L1529.0 491.5 L1531.0 491.6 L1533.0 491.6 L1535.0 491.7 L1537.0 491.8 L1539.0 491.8 L1541.0 491.9 L1543.0 492.0 L1545.0 492.1 L1547.0 492.1 L1549.0 492.2 L1551.0 492.3 L1553.0 492.4 L1555.0 492.5 L1557.0 492.6 L1559.0 492.6 L1561.0 492.7 L1563.0 492.8 L1565.0 492.9 L1567.0 493.0 L1569.0 493.0 L1571.0 493.1 L1573.0 493.2 L1575.0 493.3 L1577.0 493.4 L1579.0 493.4 L1581.0 493.5 L1583.0 493.6 L1585.0 493.7 L1587.0 493.8 L1589.0 493.9 L1591.0 493.9 L1593.0 494.0 L1595.0 494.1 L1597.0 494.2 L1599.0 494.3 L1601.0 494.4 L1603.0 494.4 L1605.0 494.5 L1607.0 494.6 L1609.0 494.7 L1611.0 494.7 L1613.0 494.8 L1615.0 494.9 L1617.0 495.0 L1619.0 495.0 L1621.0 495.1 L1623.0 495.2 L1625.0 495.2 L1627.0 495.3 L1629.0 495.4 L1631.0 495.4 L1633.0 495.5 L1635.0 495.6 L1637.0 495.6 L1639.0 495.7 L1641.0 495.7 L1643.0 495.8 L1645.0 495.9 L1647.0 495.9 L1649.0 496.0 L1651.0 496.0 L1653.0 496.1 L1655.0 496.2 L1657.0 496.2 L1659.0 496.3 L1661.0 496.3 L1663.0 496.4 L1665.0 496.4 L1667.0 496.5"/>
</g>
<text class="tk" transform="translate(1004.8 71.0) scale(1 1.06)" text-anchor="end">2.0</text>
<text class="tk" transform="translate(1004.8 197.5) scale(1 1.06)" text-anchor="end">1.5</text>
<text class="tk" transform="translate(1004.8 324.0) scale(1 1.06)" text-anchor="end">1.0</text>
<text class="tk" transform="translate(1004.8 450.5) scale(1 1.06)" text-anchor="end">0.5</text>
<text class="tk" transform="translate(1004.8 577.0) scale(1 1.06)" text-anchor="end">0.0</text>
<text class="ax" transform="translate(928.2 295) rotate(-90) scale(1 1.085)" text-anchor="middle">CF</text>
<path class="fr" d="M1009 639H1666M1009 1145H1666M1018 638V1154M1665 638V1154M1013 702.8H1018M1009 766.0H1018M1013 829.2H1018M1009 892.5H1018M1013 955.8H1018M1009 1019.0H1018M1013 1082.2H1018M1071.9 1145V1150M1125.8 1145V1154M1179.8 1145V1150M1233.7 1145V1154M1287.6 1145V1150M1341.5 1145V1154M1395.4 1145V1150M1449.3 1145V1154M1503.2 1145V1150M1557.2 1145V1154M1611.1 1145V1150"/>
<clipPath id="cpd"><rect x="1019" y="640" width="647" height="504"/></clipPath>
<g clip-path="url(#cpd)">
<path class="cv" stroke="#000" d="M1017.0 1126.3 L1019.0 1126.2 L1021.0 1126.0 L1023.0 1125.9 L1025.0 1125.7 L1027.0 1125.6 L1029.0 1125.4 L1031.0 1125.3 L1033.0 1125.2 L1035.0 1125.0 L1037.0 1124.9 L1039.0 1124.8 L1041.0 1124.6 L1043.0 1124.5 L1045.0 1124.4 L1047.0 1124.3 L1049.0 1124.2 L1051.0 1124.0 L1053.0 1123.9 L1055.0 1123.8 L1057.0 1123.7 L1059.0 1123.6 L1061.0 1123.5 L1063.0 1123.4 L1065.0 1123.3 L1067.0 1123.2 L1069.0 1123.1 L1071.0 1123.0 L1073.0 1123.0 L1075.0 1122.9 L1077.0 1122.8 L1079.0 1122.7 L1081.0 1122.7 L1083.0 1122.6 L1085.0 1122.5 L1087.0 1122.5 L1089.0 1122.4 L1091.0 1122.4 L1093.0 1122.3 L1095.0 1122.3 L1097.0 1122.2 L1099.0 1122.1 L1101.0 1122.1 L1103.0 1122.0 L1105.0 1122.0 L1107.0 1121.9 L1109.0 1121.8 L1111.0 1121.7 L1113.0 1121.7 L1115.0 1121.6 L1117.0 1121.5 L1119.0 1121.4 L1121.0 1121.3 L1123.0 1121.2 L1125.0 1121.1 L1127.0 1121.0 L1129.0 1120.8 L1131.0 1120.7 L1133.0 1120.6 L1135.0 1120.4 L1137.0 1120.3 L1139.0 1120.1 L1141.0 1120.0 L1143.0 1119.8 L1145.0 1119.7 L1147.0 1119.5 L1149.0 1119.4 L1151.0 1119.2 L1153.0 1119.0 L1155.0 1118.9 L1157.0 1118.7 L1159.0 1118.5 L1161.0 1118.4 L1163.0 1118.2 L1165.0 1118.1 L1167.0 1117.9 L1169.0 1117.7 L1171.0 1117.6 L1173.0 1117.4 L1175.0 1117.2 L1177.0 1117.1 L1179.0 1116.9 L1181.0 1116.7 L1183.0 1116.5 L1185.0 1116.3 L1187.0 1116.1 L1189.0 1115.9 L1191.0 1115.7 L1193.0 1115.5 L1195.0 1115.3 L1197.0 1115.0 L1199.0 1114.8 L1201.0 1114.5 L1203.0 1114.2 L1205.0 1114.0 L1207.0 1113.7 L1209.0 1113.4 L1211.0 1113.1 L1213.0 1112.7 L1215.0 1112.4 L1217.0 1112.1 L1219.0 1111.7 L1221.0 1111.3 L1223.0 1110.9 L1225.0 1110.4 L1227.0 1109.9 L1229.0 1109.4 L1231.0 1108.9 L1233.0 1108.3 L1235.0 1107.7 L1237.0 1107.1 L1239.0 1106.5 L1241.0 1105.9 L1243.0 1105.2 L1245.0 1104.6 L1247.0 1103.9 L1249.0 1103.2 L1251.0 1102.4 L1253.0 1101.7 L1255.0 1100.9 L1257.0 1100.2 L1259.0 1099.4 L1261.0 1098.6 L1263.0 1097.8 L1265.0 1097.0 L1267.0 1096.1 L1269.0 1095.3 L1271.0 1094.4 L1273.0 1093.6 L1275.0 1092.7 L1277.0 1091.9 L1279.0 1091.0 L1281.0 1090.2 L1283.0 1089.4 L1285.0 1088.5 L1287.0 1087.7 L1289.0 1086.8 L1291.0 1086.0 L1293.0 1085.2 L1295.0 1084.4 L1297.0 1083.6 L1299.0 1082.8 L1301.0 1082.0 L1303.0 1081.2 L1305.0 1080.5 L1307.0 1079.7 L1309.0 1079.0 L1311.0 1078.3 L1313.0 1077.6 L1315.0 1076.9 L1317.0 1076.2 L1319.0 1075.5 L1321.0 1074.9 L1323.0 1074.4 L1325.0 1073.9 L1327.0 1073.4 L1329.0 1073.0 L1331.0 1072.6 L1333.0 1072.2 L1335.0 1071.7 L1337.0 1071.3 L1339.0 1070.9 L1341.0 1070.4 L1343.0 1070.0 L1345.0 1069.5 L1347.0 1069.0 L1349.0 1068.5 L1351.0 1068.0 L1353.0 1067.5 L1355.0 1066.9 L1357.0 1066.3 L1359.0 1065.7 L1361.0 1065.1 L1363.0 1064.4 L1365.0 1063.7 L1367.0 1063.0 L1369.0 1062.2 L1371.0 1061.4 L1373.0 1060.6 L1375.0 1059.8 L1377.0 1059.0 L1379.0 1058.2 L1381.0 1057.3 L1383.0 1056.4 L1385.0 1055.6 L1387.0 1054.8 L1389.0 1053.9 L1391.0 1053.1 L1393.0 1052.3 L1395.0 1051.5 L1397.0 1050.7 L1399.0 1049.9 L1401.0 1049.2 L1403.0 1048.4 L1405.0 1047.7 L1407.0 1047.0 L1409.0 1046.2 L1411.0 1045.5 L1413.0 1044.9 L1415.0 1044.2 L1417.0 1043.5 L1419.0 1042.9 L1421.0 1042.2 L1423.0 1041.6 L1425.0 1041.1 L1427.0 1040.6 L1429.0 1040.1 L1431.0 1039.7 L1433.0 1039.2 L1435.0 1038.8 L1437.0 1038.5 L1439.0 1038.1 L1441.0 1037.8 L1443.0 1037.4 L1445.0 1037.1 L1447.0 1036.8 L1449.0 1036.5 L1451.0 1036.3 L1453.0 1036.0 L1455.0 1035.7 L1457.0 1035.5 L1459.0 1035.2 L1461.0 1034.9 L1463.0 1034.7 L1465.0 1034.4 L1467.0 1034.2 L1469.0 1033.9 L1471.0 1033.7 L1473.0 1033.4 L1475.0 1033.2 L1477.0 1033.0 L1479.0 1032.7 L1481.0 1032.5 L1483.0 1032.3 L1485.0 1032.1 L1487.0 1031.9 L1489.0 1031.7 L1491.0 1031.5 L1493.0 1031.2 L1495.0 1031.1 L1497.0 1030.9 L1499.0 1030.7 L1501.0 1030.5 L1503.0 1030.3 L1505.0 1030.1 L1507.0 1029.9 L1509.0 1029.7 L1511.0 1029.5 L1513.0 1029.3 L1515.0 1029.2 L1517.0 1029.0 L1519.0 1028.8 L1521.0 1028.6 L1523.0 1028.5 L1525.0 1028.3 L1527.0 1028.1 L1529.0 1028.0 L1531.0 1027.8 L1533.0 1027.7 L1535.0 1027.5 L1537.0 1027.4 L1539.0 1027.3 L1541.0 1027.1 L1543.0 1027.0 L1545.0 1026.9 L1547.0 1026.8 L1549.0 1026.6 L1551.0 1026.5 L1553.0 1026.4 L1555.0 1026.3 L1557.0 1026.2 L1559.0 1026.1 L1561.0 1026.0 L1563.0 1025.9 L1565.0 1025.8 L1567.0 1025.7 L1569.0 1025.6 L1571.0 1025.5 L1573.0 1025.4 L1575.0 1025.3 L1577.0 1025.2 L1579.0 1025.1 L1581.0 1025.0 L1583.0 1024.9 L1585.0 1024.8 L1587.0 1024.8 L1589.0 1024.7 L1591.0 1024.6 L1593.0 1024.5 L1595.0 1024.4 L1597.0 1024.3 L1599.0 1024.2 L1601.0 1024.2 L1603.0 1024.1 L1605.0 1024.0 L1607.0 1023.9 L1609.0 1023.8 L1611.0 1023.8 L1613.0 1023.7 L1615.0 1023.6 L1617.0 1023.5 L1619.0 1023.4 L1621.0 1023.4 L1623.0 1023.3 L1625.0 1023.2 L1627.0 1023.1 L1629.0 1023.0 L1631.0 1023.0 L1633.0 1022.9 L1635.0 1022.8 L1637.0 1022.8 L1639.0 1022.7 L1641.0 1022.6 L1643.0 1022.5 L1645.0 1022.5 L1647.0 1022.4 L1649.0 1022.3 L1651.0 1022.3 L1653.0 1022.2 L1655.0 1022.1 L1657.0 1022.1 L1659.0 1022.0 L1661.0 1022.0 L1663.0 1021.9 L1665.0 1021.8 L1667.0 1021.8"/>
<path class="cv" stroke="#f00" d="M1017.0 925.5 L1019.0 925.8 L1021.0 926.2 L1023.0 926.5 L1025.0 926.9 L1027.0 927.2 L1029.0 927.5 L1031.0 927.9 L1033.0 928.2 L1035.0 928.5 L1037.0 928.9 L1039.0 929.2 L1041.0 929.5 L1043.0 929.9 L1045.0 930.2 L1047.0 930.5 L1049.0 930.9 L1051.0 931.2 L1053.0 931.5 L1055.0 931.9 L1057.0 932.2 L1059.0 932.5 L1061.0 932.9 L1063.0 933.2 L1065.0 933.5 L1067.0 933.8 L1069.0 934.2 L1071.0 934.5 L1073.0 934.8 L1075.0 935.1 L1077.0 935.4 L1079.0 935.8 L1081.0 936.1 L1083.0 936.4 L1085.0 936.7 L1087.0 937.0 L1089.0 937.3 L1091.0 937.6 L1093.0 937.9 L1095.0 938.2 L1097.0 938.6 L1099.0 938.9 L1101.0 939.2 L1103.0 939.5 L1105.0 939.8 L1107.0 940.2 L1109.0 940.5 L1111.0 940.8 L1113.0 941.1 L1115.0 941.5 L1117.0 941.8 L1119.0 942.2 L1121.0 942.5 L1123.0 942.9 L1125.0 943.2 L1127.0 943.6 L1129.0 943.9 L1131.0 944.3 L1133.0 944.6 L1135.0 945.0 L1137.0 945.3 L1139.0 945.7 L1141.0 946.1 L1143.0 946.4 L1145.0 946.8 L1147.0 947.2 L1149.0 947.6 L1151.0 948.0 L1153.0 948.4 L1155.0 948.8 L1157.0 949.2 L1159.0 949.6 L1161.0 950.0 L1163.0 950.4 L1165.0 950.8 L1167.0 951.3 L1169.0 951.7 L1171.0 952.2 L1173.0 952.7 L1175.0 953.1 L1177.0 953.6 L1179.0 954.2 L1181.0 954.7 L1183.0 955.2 L1185.0 955.7 L1187.0 956.3 L1189.0 956.9 L1191.0 957.4 L1193.0 958.0 L1195.0 958.6 L1197.0 959.2 L1199.0 959.8 L1201.0 960.4 L1203.0 961.1 L1205.0 961.7 L1207.0 962.4 L1209.0 963.1 L1211.0 963.8 L1213.0 964.5 L1215.0 965.2 L1217.0 965.9 L1219.0 966.6 L1221.0 967.4 L1223.0 968.1 L1225.0 968.9 L1227.0 969.8 L1229.0 970.6 L1231.0 971.4 L1233.0 972.2 L1235.0 973.1 L1237.0 973.9 L1239.0 974.7 L1241.0 975.5 L1243.0 976.2 L1245.0 977.0 L1247.0 977.8 L1249.0 978.5 L1251.0 979.2 L1253.0 979.9 L1255.0 980.7 L1257.0 981.4 L1259.0 982.1 L1261.0 982.8 L1263.0 983.5 L1265.0 984.2 L1267.0 984.9 L1269.0 985.6 L1271.0 986.4 L1273.0 987.1 L1275.0 987.8 L1277.0 988.5 L1279.0 989.2 L1281.0 989.9 L1283.0 990.6 L1285.0 991.3 L1287.0 992.0 L1289.0 992.7 L1291.0 993.4 L1293.0 994.1 L1295.0 994.7 L1297.0 995.2 L1299.0 995.8 L1301.0 996.3 L1303.0 996.8 L1305.0 997.2 L1307.0 997.6 L1309.0 998.0 L1311.0 998.3 L1313.0 998.6 L1315.0 998.9 L1317.0 999.2 L1319.0 999.5 L1321.0 999.7 L1323.0 999.9 L1325.0 1000.0 L1327.0 1000.2 L1329.0 1000.4 L1331.0 1000.5 L1333.0 1000.6 L1335.0 1000.7 L1337.0 1000.8 L1339.0 1000.8 L1341.0 1000.9 L1343.0 1000.9 L1345.0 1001.0 L1347.0 1001.0 L1349.0 1001.1 L1351.0 1001.3 L1353.0 1001.5 L1355.0 1001.8 L1357.0 1002.1 L1359.0 1002.4 L1361.0 1002.7 L1363.0 1002.9 L1365.0 1003.2 L1367.0 1003.5 L1369.0 1003.9 L1371.0 1004.2 L1373.0 1004.6 L1375.0 1004.9 L1377.0 1005.3 L1379.0 1005.8 L1381.0 1006.2 L1383.0 1006.7 L1385.0 1007.2 L1387.0 1007.6 L1389.0 1008.0 L1391.0 1008.5 L1393.0 1008.9 L1395.0 1009.3 L1397.0 1009.7 L1399.0 1010.1 L1401.0 1010.4 L1403.0 1010.7 L1405.0 1011.1 L1407.0 1011.4 L1409.0 1011.7 L1411.0 1012.0 L1413.0 1012.2 L1415.0 1012.5 L1417.0 1012.8 L1419.0 1013.0 L1421.0 1013.3 L1423.0 1013.5 L1425.0 1013.7 L1427.0 1013.9 L1429.0 1014.1 L1431.0 1014.3 L1433.0 1014.5 L1435.0 1014.7 L1437.0 1014.9 L1439.0 1015.0 L1441.0 1015.2 L1443.0 1015.4 L1445.0 1015.5 L1447.0 1015.6 L1449.0 1015.7 L1451.0 1015.9 L1453.0 1016.0 L1455.0 1016.1 L1457.0 1016.2 L1459.0 1016.2 L1461.0 1016.3 L1463.0 1016.4 L1465.0 1016.5 L1467.0 1016.6 L1469.0 1016.6 L1471.0 1016.7 L1473.0 1016.8 L1475.0 1016.9 L1477.0 1016.9 L1479.0 1017.0 L1481.0 1017.1 L1483.0 1017.1 L1485.0 1017.2 L1487.0 1017.3 L1489.0 1017.3 L1491.0 1017.4 L1493.0 1017.5 L1495.0 1017.6 L1497.0 1017.7 L1499.0 1017.7 L1501.0 1017.8 L1503.0 1017.9 L1505.0 1018.0 L1507.0 1018.0 L1509.0 1018.1 L1511.0 1018.2 L1513.0 1018.3 L1515.0 1018.4 L1517.0 1018.4 L1519.0 1018.5 L1521.0 1018.6 L1523.0 1018.7 L1525.0 1018.7 L1527.0 1018.8 L1529.0 1018.9 L1531.0 1019.0 L1533.0 1019.1 L1535.0 1019.2 L1537.0 1019.2 L1539.0 1019.3 L1541.0 1019.4 L1543.0 1019.5 L1545.0 1019.6 L1547.0 1019.7 L1549.0 1019.8 L1551.0 1019.9 L1553.0 1020.0 L1555.0 1020.1 L1557.0 1020.2 L1559.0 1020.3 L1561.0 1020.4 L1563.0 1020.5 L1565.0 1020.6 L1567.0 1020.7 L1569.0 1020.8 L1571.0 1020.9 L1573.0 1021.0 L1575.0 1021.1 L1577.0 1021.2 L1579.0 1021.3 L1581.0 1021.4 L1583.0 1021.5 L1585.0 1021.6 L1587.0 1021.7 L1589.0 1021.8 L1591.0 1021.9 L1593.0 1022.0 L1595.0 1022.1 L1597.0 1022.2 L1599.0 1022.3 L1601.0 1022.4 L1603.0 1022.4 L1605.0 1022.5 L1607.0 1022.6 L1609.0 1022.7 L1611.0 1022.8 L1613.0 1022.9 L1615.0 1023.0 L1617.0 1023.0 L1619.0 1023.1 L1621.0 1023.2 L1623.0 1023.3 L1625.0 1023.4 L1627.0 1023.5 L1629.0 1023.5 L1631.0 1023.6 L1633.0 1023.7 L1635.0 1023.8 L1637.0 1023.9 L1639.0 1023.9 L1641.0 1024.0 L1643.0 1024.1 L1645.0 1024.2 L1647.0 1024.2 L1649.0 1024.3 L1651.0 1024.4 L1653.0 1024.5 L1655.0 1024.5 L1657.0 1024.6 L1659.0 1024.7 L1661.0 1024.8 L1663.0 1024.8 L1665.0 1024.9 L1667.0 1025.0"/>
<path class="cv" stroke="#0f0" d="M1017.0 668.0 L1019.0 668.5 L1021.0 669.0 L1023.0 669.5 L1025.0 669.9 L1027.0 670.4 L1029.0 670.9 L1031.0 671.4 L1033.0 671.9 L1035.0 672.4 L1037.0 673.0 L1039.0 673.5 L1041.0 674.0 L1043.0 674.5 L1045.0 675.0 L1047.0 675.6 L1049.0 676.1 L1051.0 676.6 L1053.0 677.2 L1055.0 677.7 L1057.0 678.3 L1059.0 678.8 L1061.0 679.4 L1063.0 679.9 L1065.0 680.5 L1067.0 681.0 L1069.0 681.5 L1071.0 682.0 L1073.0 682.5 L1075.0 683.0 L1077.0 683.6 L1079.0 684.1 L1081.0 684.6 L1083.0 685.1 L1085.0 685.6 L1087.0 686.0 L1089.0 686.5 L1091.0 687.0 L1093.0 687.5 L1095.0 688.0 L1097.0 688.4 L1099.0 688.9 L1101.0 689.4 L1103.0 689.8 L1105.0 690.3 L1107.0 690.7 L1109.0 691.2 L1111.0 691.6 L1113.0 692.1 L1115.0 692.5 L1117.0 693.0 L1119.0 693.5 L1121.0 694.0 L1123.0 694.4 L1125.0 694.9 L1127.0 695.4 L1129.0 695.9 L1131.0 696.4 L1133.0 696.9 L1135.0 697.4 L1137.0 697.9 L1139.0 698.4 L1141.0 699.0 L1143.0 699.5 L1145.0 700.1 L1147.0 700.6 L1149.0 701.2 L1151.0 701.9 L1153.0 702.5 L1155.0 703.1 L1157.0 703.7 L1159.0 704.4 L1161.0 705.0 L1163.0 705.6 L1165.0 706.2 L1167.0 706.7 L1169.0 707.3 L1171.0 707.8 L1173.0 708.3 L1175.0 708.8 L1177.0 709.3 L1179.0 709.8 L1181.0 710.3 L1183.0 710.8 L1185.0 711.3 L1187.0 711.8 L1189.0 712.2 L1191.0 712.7 L1193.0 713.1 L1195.0 713.6 L1197.0 714.1 L1199.0 714.5 L1201.0 715.0 L1203.0 715.4 L1205.0 715.9 L1207.0 716.3 L1209.0 716.8 L1211.0 717.3 L1213.0 717.7 L1215.0 718.2 L1217.0 718.7 L1219.0 719.1 L1221.0 719.6 L1223.0 720.0 L1225.0 720.5 L1227.0 720.9 L1229.0 721.3 L1231.0 721.8 L1233.0 722.2 L1235.0 722.6 L1237.0 723.0 L1239.0 723.4 L1241.0 723.7 L1243.0 723.9 L1245.0 724.1 L1247.0 724.4 L1249.0 724.6 L1251.0 724.7 L1253.0 724.9 L1255.0 725.0 L1257.0 725.0 L1259.0 725.0 L1261.0 725.0 L1263.0 725.0 L1265.0 724.9 L1267.0 724.9 L1269.0 724.9 L1271.0 724.8 L1273.0 724.8 L1275.0 724.6 L1277.0 724.3 L1279.0 724.0 L1281.0 723.6 L1283.0 723.2 L1285.0 722.8 L1287.0 722.4 L1289.0 722.0 L1291.0 721.5 L1293.0 721.1 L1295.0 720.6 L1297.0 720.1 L1299.0 719.5 L1301.0 719.0 L1303.0 718.5 L1305.0 717.9 L1307.0 717.3 L1309.0 716.7 L1311.0 716.1 L1313.0 715.5 L1315.0 714.9 L1317.0 714.3 L1319.0 713.7 L1321.0 713.2 L1323.0 712.6 L1325.0 712.0 L1327.0 711.4 L1329.0 710.8 L1331.0 710.2 L1333.0 709.5 L1335.0 708.8 L1337.0 708.1 L1339.0 707.4 L1341.0 706.7 L1343.0 705.9 L1345.0 705.2 L1347.0 704.4 L1349.0 703.7 L1351.0 702.9 L1353.0 702.1 L1355.0 701.3 L1357.0 700.5 L1359.0 699.7 L1361.0 698.8 L1363.0 698.0 L1365.0 697.2 L1367.0 696.4 L1369.0 695.6 L1371.0 694.8 L1373.0 694.0 L1375.0 693.1 L1377.0 692.3 L1379.0 691.5 L1381.0 690.7 L1383.0 689.9 L1385.0 689.1 L1387.0 688.3 L1389.0 687.6 L1391.0 686.8 L1393.0 686.1 L1395.0 685.4 L1397.0 684.7 L1399.0 684.0 L1401.0 683.3 L1403.0 682.6 L1405.0 682.0 L1407.0 681.3 L1409.0 680.7 L1411.0 680.0 L1413.0 679.4 L1415.0 678.7 L1417.0 678.1 L1419.0 677.5 L1421.0 676.9 L1423.0 676.4 L1425.0 675.8 L1427.0 675.3 L1429.0 674.8 L1431.0 674.3 L1433.0 673.8 L1435.0 673.4 L1437.0 672.9 L1439.0 672.5 L1441.0 672.0 L1443.0 671.6 L1445.0 671.1 L1447.0 670.7 L1449.0 670.3 L1451.0 669.9 L1453.0 669.5 L1455.0 669.2 L1457.0 668.9 L1459.0 668.6 L1461.0 668.3 L1463.0 668.0 L1465.0 667.7 L1467.0 667.4 L1469.0 667.1 L1471.0 666.8 L1473.0 666.6 L1475.0 666.3 L1477.0 666.0 L1479.0 665.7 L1481.0 665.4 L1483.0 665.1 L1485.0 664.8 L1487.0 664.5 L1489.0 664.2 L1491.0 663.9 L1493.0 663.7 L1495.0 663.4 L1497.0 663.1 L1499.0 662.8 L1501.0 662.6 L1503.0 662.3 L1505.0 662.1 L1507.0 661.8 L1509.0 661.6 L1511.0 661.4 L1513.0 661.2 L1515.0 661.0 L1517.0 660.8 L1519.0 660.7 L1521.0 660.5 L1523.0 660.4 L1525.0 660.2 L1527.0 660.1 L1529.0 660.0 L1531.0 659.9 L1533.0 659.7 L1535.0 659.6 L1537.0 659.5 L1539.0 659.4 L1541.0 659.3 L1543.0 659.2 L1545.0 659.2 L1547.0 659.1 L1549.0 659.0 L1551.0 658.9 L1553.0 658.8 L1555.0 658.7 L1557.0 658.7 L1559.0 658.6 L1561.0 658.5 L1563.0 658.4 L1565.0 658.3 L1567.0 658.3 L1569.0 658.2 L1571.0 658.1 L1573.0 658.1 L1575.0 658.0 L1577.0 658.0 L1579.0 657.9 L1581.0 657.9 L1583.0 657.8 L1585.0 657.8 L1587.0 657.8 L1589.0 657.8 L1591.0 657.8 L1593.0 657.8 L1595.0 657.8 L1597.0 657.8 L1599.0 657.8 L1601.0 657.8 L1603.0 657.8 L1605.0 657.8 L1607.0 657.8 L1609.0 657.8 L1611.0 657.8 L1613.0 657.8 L1615.0 657.8 L1617.0 657.8 L1619.0 657.8 L1621.0 657.8 L1623.0 657.8 L1625.0 657.8 L1627.0 657.8 L1629.0 657.8 L1631.0 657.8 L1633.0 657.8 L1635.0 657.8 L1637.0 657.8 L1639.0 657.8 L1641.0 657.8 L1643.0 657.8 L1645.0 657.8 L1647.0 657.8 L1649.0 657.8 L1651.0 657.8 L1653.0 657.8 L1655.0 657.8 L1657.0 657.8 L1659.0 657.8 L1661.0 657.8 L1663.0 657.8 L1665.0 657.8 L1667.0 657.8"/>
<path class="cv" stroke="#008000" d="M1017.0 1130.8 L1019.0 1130.8 L1021.0 1130.8 L1023.0 1130.8 L1025.0 1130.8 L1027.0 1130.8 L1029.0 1130.8 L1031.0 1130.8 L1033.0 1130.8 L1035.0 1130.8 L1037.0 1130.8 L1039.0 1130.8 L1041.0 1130.8 L1043.0 1130.8 L1045.0 1130.8 L1047.0 1130.8 L1049.0 1130.8 L1051.0 1130.8 L1053.0 1130.8 L1055.0 1130.8 L1057.0 1130.8 L1059.0 1130.8 L1061.0 1130.8 L1063.0 1130.8 L1065.0 1130.8 L1067.0 1130.8 L1069.0 1130.8 L1071.0 1130.8 L1073.0 1130.8 L1075.0 1130.8 L1077.0 1130.8 L1079.0 1130.8 L1081.0 1130.8 L1083.0 1130.8 L1085.0 1130.8 L1087.0 1130.8 L1089.0 1130.7 L1091.0 1130.7 L1093.0 1130.7 L1095.0 1130.7 L1097.0 1130.7 L1099.0 1130.7 L1101.0 1130.6 L1103.0 1130.6 L1105.0 1130.6 L1107.0 1130.6 L1109.0 1130.6 L1111.0 1130.6 L1113.0 1130.5 L1115.0 1130.5 L1117.0 1130.5 L1119.0 1130.5 L1121.0 1130.5 L1123.0 1130.4 L1125.0 1130.4 L1127.0 1130.4 L1129.0 1130.4 L1131.0 1130.3 L1133.0 1130.3 L1135.0 1130.3 L1137.0 1130.2 L1139.0 1130.2 L1141.0 1130.2 L1143.0 1130.2 L1145.0 1130.1 L1147.0 1130.1 L1149.0 1130.0 L1151.0 1130.0 L1153.0 1130.0 L1155.0 1129.9 L1157.0 1129.9 L1159.0 1129.9 L1161.0 1129.8 L1163.0 1129.8 L1165.0 1129.7 L1167.0 1129.7 L1169.0 1129.7 L1171.0 1129.6 L1173.0 1129.6 L1175.0 1129.5 L1177.0 1129.5 L1179.0 1129.4 L1181.0 1129.4 L1183.0 1129.3 L1185.0 1129.2 L1187.0 1129.2 L1189.0 1129.1 L1191.0 1129.0 L1193.0 1129.0 L1195.0 1128.9 L1197.0 1128.8 L1199.0 1128.7 L1201.0 1128.5 L1203.0 1128.4 L1205.0 1128.3 L1207.0 1128.1 L1209.0 1128.0 L1211.0 1127.8 L1213.0 1127.6 L1215.0 1127.4 L1217.0 1127.3 L1219.0 1127.1 L1221.0 1126.9 L1223.0 1126.7 L1225.0 1126.5 L1227.0 1126.3 L1229.0 1126.0 L1231.0 1125.8 L1233.0 1125.5 L1235.0 1125.3 L1237.0 1125.0 L1239.0 1124.7 L1241.0 1124.4 L1243.0 1124.1 L1245.0 1123.8 L1247.0 1123.4 L1249.0 1123.1 L1251.0 1122.7 L1253.0 1122.3 L1255.0 1121.9 L1257.0 1121.5 L1259.0 1121.1 L1261.0 1120.7 L1263.0 1120.3 L1265.0 1119.8 L1267.0 1119.4 L1269.0 1118.9 L1271.0 1118.4 L1273.0 1117.9 L1275.0 1117.3 L1277.0 1116.8 L1279.0 1116.2 L1281.0 1115.7 L1283.0 1115.2 L1285.0 1114.7 L1287.0 1114.3 L1289.0 1113.8 L1291.0 1113.4 L1293.0 1112.9 L1295.0 1112.5 L1297.0 1112.1 L1299.0 1111.7 L1301.0 1111.4 L1303.0 1111.0 L1305.0 1110.7 L1307.0 1110.3 L1309.0 1110.0 L1311.0 1109.7 L1313.0 1109.4 L1315.0 1109.1 L1317.0 1108.8 L1319.0 1108.6 L1321.0 1108.3 L1323.0 1108.1 L1325.0 1107.9 L1327.0 1107.7 L1329.0 1107.5 L1331.0 1107.3 L1333.0 1107.2 L1335.0 1107.0 L1337.0 1106.8 L1339.0 1106.6 L1341.0 1106.5 L1343.0 1106.5 L1345.0 1106.7 L1347.0 1107.0 L1349.0 1107.4 L1351.0 1107.8 L1353.0 1108.2 L1355.0 1108.6 L1357.0 1109.2 L1359.0 1109.8 L1361.0 1110.4 L1363.0 1110.8 L1365.0 1111.0 L1367.0 1111.2 L1369.0 1111.3 L1371.0 1111.4 L1373.0 1111.5 L1375.0 1111.5 L1377.0 1111.6 L1379.0 1111.6 L1381.0 1111.7 L1383.0 1111.7 L1385.0 1111.7 L1387.0 1111.7 L1389.0 1111.6 L1391.0 1111.5 L1393.0 1111.3 L1395.0 1111.2 L1397.0 1111.1 L1399.0 1110.9 L1401.0 1110.8 L1403.0 1110.6 L1405.0 1110.4 L1407.0 1110.2 L1409.0 1110.0 L1411.0 1109.8 L1413.0 1109.6 L1415.0 1109.5 L1417.0 1109.3 L1419.0 1109.1 L1421.0 1109.0 L1423.0 1108.8 L1425.0 1108.6 L1427.0 1108.5 L1429.0 1108.3 L1431.0 1108.2 L1433.0 1108.0 L1435.0 1107.9 L1437.0 1107.7 L1439.0 1107.6 L1441.0 1107.4 L1443.0 1107.3 L1445.0 1107.2 L1447.0 1107.0 L1449.0 1106.9 L1451.0 1106.7 L1453.0 1106.6 L1455.0 1106.4 L1457.0 1106.2 L1459.0 1106.0 L1461.0 1105.9 L1463.0 1105.7 L1465.0 1105.5 L1467.0 1105.3 L1469.0 1105.1 L1471.0 1104.9 L1473.0 1104.7 L1475.0 1104.5 L1477.0 1104.4 L1479.0 1104.2 L1481.0 1104.0 L1483.0 1103.8 L1485.0 1103.6 L1487.0 1103.5 L1489.0 1103.3 L1491.0 1103.1 L1493.0 1103.0 L1495.0 1102.9 L1497.0 1102.7 L1499.0 1102.6 L1501.0 1102.4 L1503.0 1102.3 L1505.0 1102.2 L1507.0 1102.1 L1509.0 1101.9 L1511.0 1101.8 L1513.0 1101.7 L1515.0 1101.6 L1517.0 1101.5 L1519.0 1101.3 L1521.0 1101.2 L1523.0 1101.1 L1525.0 1101.0 L1527.0 1100.9 L1529.0 1100.8 L1531.0 1100.7 L1533.0 1100.5 L1535.0 1100.4 L1537.0 1100.3 L1539.0 1100.2 L1541.0 1100.1 L1543.0 1100.0 L1545.0 1099.9 L1547.0 1099.8 L1549.0 1099.7 L1551.0 1099.6 L1553.0 1099.5 L1555.0 1099.3 L1557.0 1099.2 L1559.0 1099.1 L1561.0 1099.0 L1563.0 1098.9 L1565.0 1098.8 L1567.0 1098.7 L1569.0 1098.6 L1571.0 1098.5 L1573.0 1098.4 L1575.0 1098.3 L1577.0 1098.2 L1579.0 1098.1 L1581.0 1098.0 L1583.0 1097.9 L1585.0 1097.8 L1587.0 1097.8 L1589.0 1097.7 L1591.0 1097.6 L1593.0 1097.5 L1595.0 1097.4 L1597.0 1097.3 L1599.0 1097.3 L1601.0 1097.2 L1603.0 1097.1 L1605.0 1097.0 L1607.0 1096.9 L1609.0 1096.9 L1611.0 1096.8 L1613.0 1096.7 L1615.0 1096.6 L1617.0 1096.6 L1619.0 1096.5 L1621.0 1096.4 L1623.0 1096.4 L1625.0 1096.3 L1627.0 1096.2 L1629.0 1096.1 L1631.0 1096.1 L1633.0 1096.0 L1635.0 1095.9 L1637.0 1095.9 L1639.0 1095.8 L1641.0 1095.7 L1643.0 1095.7 L1645.0 1095.6 L1647.0 1095.6 L1649.0 1095.5 L1651.0 1095.4 L1653.0 1095.4 L1655.0 1095.3 L1657.0 1095.3 L1659.0 1095.2 L1661.0 1095.2 L1663.0 1095.1 L1665.0 1095.1 L1667.0 1095.0"/>
<path class="cv" stroke="#00f" d="M1017.0 1133.7 L1019.0 1133.7 L1021.0 1133.7 L1023.0 1133.7 L1025.0 1133.7 L1027.0 1133.7 L1029.0 1133.7 L1031.0 1133.7 L1033.0 1133.7 L1035.0 1133.7 L1037.0 1133.7 L1039.0 1133.7 L1041.0 1133.7 L1043.0 1133.7 L1045.0 1133.7 L1047.0 1133.7 L1049.0 1133.7 L1051.0 1133.7 L1053.0 1133.7 L1055.0 1133.7 L1057.0 1133.7 L1059.0 1133.7 L1061.0 1133.7 L1063.0 1133.7 L1065.0 1133.7 L1067.0 1133.7 L1069.0 1133.7 L1071.0 1133.7 L1073.0 1133.7 L1075.0 1133.7 L1077.0 1133.7 L1079.0 1133.7 L1081.0 1133.7 L1083.0 1133.7 L1085.0 1133.7 L1087.0 1133.7 L1089.0 1133.7 L1091.0 1133.7 L1093.0 1133.7 L1095.0 1133.7 L1097.0 1133.7 L1099.0 1133.7 L1101.0 1133.7 L1103.0 1133.7 L1105.0 1133.7 L1107.0 1133.7 L1109.0 1133.7 L1111.0 1133.7 L1113.0 1133.7 L1115.0 1133.7 L1117.0 1133.7 L1119.0 1133.7 L1121.0 1133.7 L1123.0 1133.6 L1125.0 1133.6 L1127.0 1133.5 L1129.0 1133.4 L1131.0 1133.3 L1133.0 1133.2 L1135.0 1133.1 L1137.0 1133.0 L1139.0 1132.9 L1141.0 1132.7 L1143.0 1132.6 L1145.0 1132.5 L1147.0 1132.3 L1149.0 1132.2 L1151.0 1132.1 L1153.0 1131.9 L1155.0 1131.8 L1157.0 1131.7 L1159.0 1131.6 L1161.0 1131.5 L1163.0 1131.3 L1165.0 1131.2 L1167.0 1131.1 L1169.0 1131.0 L1171.0 1130.9 L1173.0 1130.8 L1175.0 1130.7 L1177.0 1130.6 L1179.0 1130.5 L1181.0 1130.4 L1183.0 1130.3 L1185.0 1130.2 L1187.0 1130.1 L1189.0 1130.0 L1191.0 1129.9 L1193.0 1129.7 L1195.0 1129.6 L1197.0 1129.5 L1199.0 1129.3 L1201.0 1129.2 L1203.0 1129.1 L1205.0 1128.9 L1207.0 1128.8 L1209.0 1128.6 L1211.0 1128.5 L1213.0 1128.3 L1215.0 1128.1 L1217.0 1128.0 L1219.0 1127.8 L1221.0 1127.6 L1223.0 1127.4 L1225.0 1127.2 L1227.0 1127.0 L1229.0 1126.7 L1231.0 1126.5 L1233.0 1126.2 L1235.0 1125.9 L1237.0 1125.7 L1239.0 1125.4 L1241.0 1125.1 L1243.0 1124.8 L1245.0 1124.5 L1247.0 1124.1 L1249.0 1123.8 L1251.0 1123.4 L1253.0 1123.0 L1255.0 1122.6 L1257.0 1122.2 L1259.0 1121.8 L1261.0 1121.4 L1263.0 1121.0 L1265.0 1120.5 L1267.0 1120.1 L1269.0 1119.6 L1271.0 1119.1 L1273.0 1118.6 L1275.0 1118.0 L1277.0 1117.5 L1279.0 1116.9 L1281.0 1116.4 L1283.0 1115.9 L1285.0 1115.4 L1287.0 1115.0 L1289.0 1114.5 L1291.0 1114.1 L1293.0 1113.6 L1295.0 1113.2 L1297.0 1112.8 L1299.0 1112.4 L1301.0 1112.1 L1303.0 1111.7 L1305.0 1111.4 L1307.0 1111.0 L1309.0 1110.7 L1311.0 1110.4 L1313.0 1110.1 L1315.0 1109.8 L1317.0 1109.5 L1319.0 1109.3 L1321.0 1109.0 L1323.0 1108.8 L1325.0 1108.6 L1327.0 1108.4 L1329.0 1108.2 L1331.0 1108.0 L1333.0 1107.9 L1335.0 1107.7 L1337.0 1107.6 L1339.0 1107.5 L1341.0 1107.3 L1343.0 1107.1 L1345.0 1106.6 L1347.0 1105.9 L1349.0 1105.2 L1351.0 1104.3 L1353.0 1103.5 L1355.0 1102.6 L1357.0 1101.7 L1359.0 1100.6 L1361.0 1099.5 L1363.0 1098.4 L1365.0 1097.5 L1367.0 1096.5 L1369.0 1095.6 L1371.0 1094.6 L1373.0 1093.8 L1375.0 1092.9 L1377.0 1092.1 L1379.0 1091.3 L1381.0 1090.6 L1383.0 1089.8 L1385.0 1089.1 L1387.0 1088.4 L1389.0 1087.8 L1391.0 1087.1 L1393.0 1086.4 L1395.0 1085.8 L1397.0 1085.2 L1399.0 1084.7 L1401.0 1084.1 L1403.0 1083.7 L1405.0 1083.2 L1407.0 1082.8 L1409.0 1082.4 L1411.0 1082.0 L1413.0 1081.6 L1415.0 1081.2 L1417.0 1080.9 L1419.0 1080.5 L1421.0 1080.2 L1423.0 1079.9 L1425.0 1079.6 L1427.0 1079.3 L1429.0 1079.1 L1431.0 1078.8 L1433.0 1078.6 L1435.0 1078.3 L1437.0 1078.1 L1439.0 1077.9 L1441.0 1077.7 L1443.0 1077.4 L1445.0 1077.2 L1447.0 1077.1 L1449.0 1076.9 L1451.0 1076.7 L1453.0 1076.6 L1455.0 1076.4 L1457.0 1076.2 L1459.0 1076.1 L1461.0 1075.9 L1463.0 1075.8 L1465.0 1075.6 L1467.0 1075.5 L1469.0 1075.4 L1471.0 1075.3 L1473.0 1075.2 L1475.0 1075.1 L1477.0 1075.0 L1479.0 1075.0 L1481.0 1075.0 L1483.0 1075.0 L1485.0 1075.0 L1487.0 1075.0 L1489.0 1075.0 L1491.0 1075.0 L1493.0 1075.0 L1495.0 1075.0 L1497.0 1075.0 L1499.0 1075.0 L1501.0 1075.0 L1503.0 1075.0 L1505.0 1075.0 L1507.0 1075.0 L1509.0 1075.0 L1511.0 1075.0 L1513.0 1075.0 L1515.0 1075.0 L1517.0 1075.0 L1519.0 1075.0 L1521.0 1075.0 L1523.0 1075.0 L1525.0 1075.0 L1527.0 1075.1 L1529.0 1075.1 L1531.0 1075.1 L1533.0 1075.2 L1535.0 1075.2 L1537.0 1075.3 L1539.0 1075.3 L1541.0 1075.4 L1543.0 1075.4 L1545.0 1075.5 L1547.0 1075.6 L1549.0 1075.6 L1551.0 1075.7 L1553.0 1075.8 L1555.0 1075.8 L1557.0 1075.9 L1559.0 1076.0 L1561.0 1076.0 L1563.0 1076.1 L1565.0 1076.2 L1567.0 1076.2 L1569.0 1076.3 L1571.0 1076.3 L1573.0 1076.4 L1575.0 1076.5 L1577.0 1076.5 L1579.0 1076.6 L1581.0 1076.7 L1583.0 1076.8 L1585.0 1076.8 L1587.0 1076.9 L1589.0 1077.0 L1591.0 1077.0 L1593.0 1077.1 L1595.0 1077.2 L1597.0 1077.3 L1599.0 1077.4 L1601.0 1077.4 L1603.0 1077.5 L1605.0 1077.6 L1607.0 1077.6 L1609.0 1077.7 L1611.0 1077.8 L1613.0 1077.8 L1615.0 1077.9 L1617.0 1078.0 L1619.0 1078.0 L1621.0 1078.1 L1623.0 1078.1 L1625.0 1078.2 L1627.0 1078.3 L1629.0 1078.3 L1631.0 1078.4 L1633.0 1078.4 L1635.0 1078.5 L1637.0 1078.5 L1639.0 1078.6 L1641.0 1078.6 L1643.0 1078.7 L1645.0 1078.7 L1647.0 1078.8 L1649.0 1078.8 L1651.0 1078.9 L1653.0 1078.9 L1655.0 1079.0 L1657.0 1079.0 L1659.0 1079.1 L1661.0 1079.1 L1663.0 1079.1 L1665.0 1079.2 L1667.0 1079.2"/>
</g>
<text class="tk" transform="translate(1004.8 649.2) scale(1 1.06)" text-anchor="end">2.0</text>
<text class="tk" transform="translate(1004.8 775.7) scale(1 1.06)" text-anchor="end">1.5</text>
<text class="tk" transform="translate(1004.8 902.2) scale(1 1.06)" text-anchor="end">1.0</text>
<text class="tk" transform="translate(1004.8 1028.7) scale(1 1.06)" text-anchor="end">0.5</text>
<text class="tk" transform="translate(1004.8 1155.2) scale(1 1.06)" text-anchor="end">0.0</text>
<text class="tk" transform="translate(1018.5 1190.5) scale(1 1.06)" text-anchor="middle">-150</text>
<text class="tk" transform="translate(1126.3 1190.5) scale(1 1.06)" text-anchor="middle">-100</text>
<text class="tk" transform="translate(1234.2 1190.5) scale(1 1.06)" text-anchor="middle">-50</text>
<text class="tk" transform="translate(1342.0 1190.5) scale(1 1.06)" text-anchor="middle">0</text>
<text class="tk" transform="translate(1449.8 1190.5) scale(1 1.06)" text-anchor="middle">50</text>
<text class="tk" transform="translate(1557.7 1190.5) scale(1 1.06)" text-anchor="middle">100</text>
<text class="tk" transform="translate(1665.5 1190.5) scale(1 1.06)" text-anchor="middle">150</text>
<text class="ax" transform="translate(1222.5 1254.0) scale(1 1.03)">V</text>
<text class="axs" transform="translate(1267.0 1280.7) scale(1 0.98)">bias</text>
<text class="ax" transform="translate(1342.0 1254.0) scale(1 1.03)">(mV)</text>
<text class="ax" transform="translate(917.2 882) rotate(-90) scale(1 1.085)" text-anchor="middle">CF</text>
<rect x="558" y="114" width="53" height="8" rx="2.5" fill="#000" shape-rendering="crispEdges"/>
<rect x="558" y="184" width="53" height="8" rx="2.5" fill="#f00" shape-rendering="crispEdges"/>
<rect x="558" y="254" width="53" height="8" rx="2.5" fill="#0f0" shape-rendering="crispEdges"/>
<rect x="558" y="324" width="53" height="8" rx="2.5" fill="#008000" shape-rendering="crispEdges"/>
<rect x="558" y="380" width="53" height="8" rx="2.5" fill="#00f" shape-rendering="crispEdges"/>
<text class="an" transform="translate(625.0 125.0) scale(1 1.06)">N</text>
<text class="sb" transform="translate(656.0 142.5) scale(1 1.06)">L,σ</text>
<text class="an" transform="translate(619.0 195.0) scale(1 1.06)">N</text>
<text class="sb" transform="translate(650.5 212.5) scale(1 1.06)">R, σ</text>
<text class="an" transform="translate(619.0 264.5) scale(1 1.06)">N</text>
<text class="sb" transform="translate(650.5 282.5) scale(1 1.06)">T</text>
<text class="an" transform="translate(620.0 335.0) scale(1 1.06)">2-site-S</text>
<text class="an" transform="translate(620.0 391.0) scale(1 1.06)">2-site-T</text>
<text class="an" transform="translate(202.5 176.0) scale(1 1.03)">(a)</text>
<text class="gm" transform="translate(239.5 260.0) scale(1 1.0)">Γ</text>
<text class="sb" transform="translate(264.0 276.5) scale(1 1.06)">e,t</text>
<text class="an" transform="translate(303.5 260.0) scale(1 1.06)">=</text>
<text class="an" transform="translate(339.5 260.0) scale(1 1.06)">t</text>
<text class="sb" transform="translate(355.0 276.5) scale(1 1.06)">LR</text>
<text class="an" transform="translate(387.5 260.0) scale(1 1.06)">/</text>
<text class="an" transform="translate(412.0 260.0) scale(1 1.06)">3</text>
<text class="an" transform="translate(240.5 468.0) scale(1 1.06)">T = 12 K</text>
<text class="an" transform="translate(211.5 777.5) scale(1 1.03)">(b)</text>
<text class="gm" transform="translate(218.5 852.0) scale(1 1.0)">Γ</text>
<text class="sb" transform="translate(243.0 868.5) scale(1 1.06)">e,t</text>
<text class="an" transform="translate(281.5 852.0) scale(1 1.06)">=</text>
<text class="an" transform="translate(320.0 852.0) scale(1 1.06)">2</text>
<text class="an" transform="translate(354.5 852.0) scale(1 1.06)">t</text>
<text class="sb" transform="translate(369.5 868.5) scale(1 1.06)">LR</text>
<text class="an" transform="translate(401.5 852.0) scale(1 1.06)">/</text>
<text class="an" transform="translate(427.0 852.0) scale(1 1.06)">3</text>
<text class="an" transform="translate(1052.5 195.0) scale(1 1.03)">(c)</text>
<text class="gm" transform="translate(1046.5 259.0) scale(1 1.0)">Γ</text>
<text class="sb" transform="translate(1071.0 276.0) scale(1 1.06)">e,t</text>
<text class="an" transform="translate(1110.5 259.0) scale(1 1.06)">=</text>
<text class="an" transform="translate(1146.5 259.0) scale(1 1.06)">t</text>
<text class="sb" transform="translate(1162.0 276.0) scale(1 1.06)">LR</text>
<text class="an" transform="translate(1058.5 781.0) scale(1 1.03)">(d)</text>
<text class="gm" transform="translate(1064.5 843.0) scale(1 1.0)">Γ</text>
<text class="sb" transform="translate(1089.0 859.5) scale(1 1.06)">e,t</text>
<text class="an" transform="translate(1128.5 843.0) scale(1 1.06)">=</text>
<text class="an" transform="translate(1165.5 843.0) scale(1 1.06)">4</text>
<text class="an" transform="translate(1200.5 843.0) scale(1 1.06)">t</text>
<text class="sb" transform="translate(1215.0 859.5) scale(1 1.06)">LR</text>
<text class="an" transform="translate(1248.5 843.0) scale(1 1.06)">/</text>
<text class="an" transform="translate(1261.0 843.0) scale(1 1.06)">3</text>
</svg></body></html>
